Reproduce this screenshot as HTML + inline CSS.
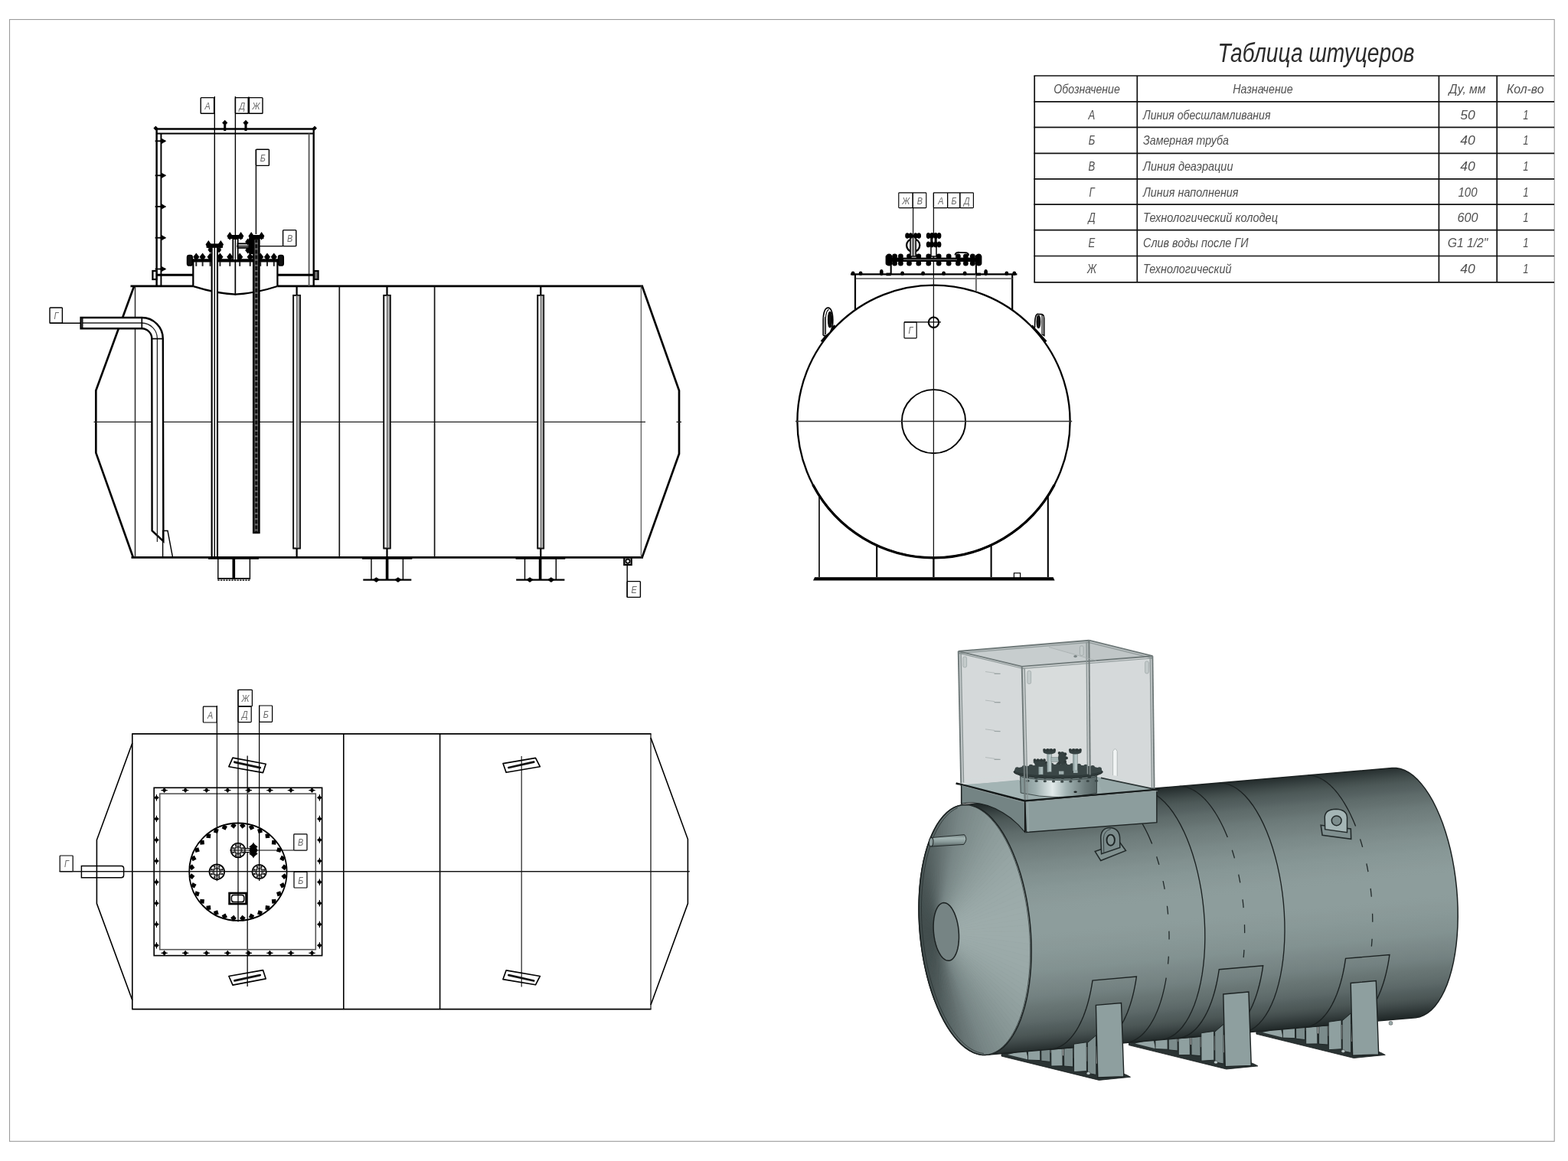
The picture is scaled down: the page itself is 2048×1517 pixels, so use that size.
<!DOCTYPE html>
<html lang="ru">
<head>
<meta charset="utf-8">
<title>Таблица штуцеров</title>
<style>
html,body{margin:0;padding:0;background:#fff;}
body{width:2048px;height:1517px;overflow:hidden;}
svg{display:block;}
svg text{font-family:"Liberation Sans",sans-serif;font-style:italic;filter:grayscale(1);}
</style>
</head>
<body>
<svg width="2048" height="1517" viewBox="0 0 2048 1517">
<rect x="0" y="0" width="2048" height="1517" fill="#ffffff"/>
<g id="table">
<rect x="12.5" y="25.5" width="2017.7" height="1465.8" stroke="#9b9b9b" stroke-width="1.1" fill="none"/>
<text x="1590.5" y="81.3" font-size="35.5" textLength="257" lengthAdjust="spacingAndGlyphs" text-anchor="start" fill="#2b2b2b">Таблица штуцеров</text>
<path d="M1350.4 99L2030 99" stroke="#111" stroke-width="1.7" fill="none"/>
<path d="M1350.4 132.8L2030 132.8" stroke="#111" stroke-width="1.7" fill="none"/>
<path d="M1350.4 166.4L2030 166.4" stroke="#111" stroke-width="1.7" fill="none"/>
<path d="M1350.4 200.3L2030 200.3" stroke="#111" stroke-width="1.7" fill="none"/>
<path d="M1350.4 233.8L2030 233.8" stroke="#111" stroke-width="1.7" fill="none"/>
<path d="M1350.4 267.2L2030 267.2" stroke="#111" stroke-width="1.7" fill="none"/>
<path d="M1350.4 300.6L2030 300.6" stroke="#111" stroke-width="1.7" fill="none"/>
<path d="M1350.4 334.5L2030 334.5" stroke="#111" stroke-width="1.7" fill="none"/>
<path d="M1350.4 368.8L2030 368.8" stroke="#111" stroke-width="1.7" fill="none"/>
<path d="M1351.2 99L1351.2 368.8" stroke="#111" stroke-width="1.7" fill="none"/>
<path d="M1485.3 99L1485.3 368.8" stroke="#111" stroke-width="1.7" fill="none"/>
<path d="M1879.4 99L1879.4 368.8" stroke="#111" stroke-width="1.7" fill="none"/>
<path d="M1955.2 99L1955.2 368.8" stroke="#111" stroke-width="1.7" fill="none"/>
<text x="1376.3" y="121.8" font-size="16.4" textLength="86.5" lengthAdjust="spacingAndGlyphs" text-anchor="start" fill="#505050">Обозначение</text>
<text x="1610.3" y="121.8" font-size="16.4" textLength="78.3" lengthAdjust="spacingAndGlyphs" text-anchor="start" fill="#505050">Назначение</text>
<text x="1892.6" y="121.8" font-size="16.4" textLength="47.8" lengthAdjust="spacingAndGlyphs" text-anchor="start" fill="#505050">Ду, мм</text>
<text x="1968" y="121.8" font-size="16.4" textLength="48.5" lengthAdjust="spacingAndGlyphs" text-anchor="start" fill="#505050">Кол-во</text>
<text transform="translate(1426 155.6) scale(0.8 1)" font-size="16.4" text-anchor="middle" fill="#505050" font-weight="normal">А</text>
<text x="1493" y="155.6" font-size="16.4" textLength="166.5" lengthAdjust="spacingAndGlyphs" text-anchor="start" fill="#505050">Линия обесшламливания</text>
<text x="1907.25" y="155.6" font-size="16.4" textLength="19.5" lengthAdjust="spacingAndGlyphs" text-anchor="start" fill="#505050">50</text>
<text transform="translate(1993 155.6) scale(0.8 1)" font-size="16.4" text-anchor="middle" fill="#505050" font-weight="normal">1</text>
<text transform="translate(1426 189.2) scale(0.8 1)" font-size="16.4" text-anchor="middle" fill="#505050" font-weight="normal">Б</text>
<text x="1493" y="189.2" font-size="16.4" textLength="112" lengthAdjust="spacingAndGlyphs" text-anchor="start" fill="#505050">Замерная труба</text>
<text x="1907.25" y="189.2" font-size="16.4" textLength="19.5" lengthAdjust="spacingAndGlyphs" text-anchor="start" fill="#505050">40</text>
<text transform="translate(1993 189.2) scale(0.8 1)" font-size="16.4" text-anchor="middle" fill="#505050" font-weight="normal">1</text>
<text transform="translate(1426 223.1) scale(0.8 1)" font-size="16.4" text-anchor="middle" fill="#505050" font-weight="normal">В</text>
<text x="1493" y="223.1" font-size="16.4" textLength="117.5" lengthAdjust="spacingAndGlyphs" text-anchor="start" fill="#505050">Линия деаэрации</text>
<text x="1907.25" y="223.1" font-size="16.4" textLength="19.5" lengthAdjust="spacingAndGlyphs" text-anchor="start" fill="#505050">40</text>
<text transform="translate(1993 223.1) scale(0.8 1)" font-size="16.4" text-anchor="middle" fill="#505050" font-weight="normal">1</text>
<text transform="translate(1426 256.6) scale(0.8 1)" font-size="16.4" text-anchor="middle" fill="#505050" font-weight="normal">Г</text>
<text x="1493" y="256.6" font-size="16.4" textLength="124.5" lengthAdjust="spacingAndGlyphs" text-anchor="start" fill="#505050">Линия наполнения</text>
<text x="1904.5" y="256.6" font-size="16.4" textLength="25" lengthAdjust="spacingAndGlyphs" text-anchor="start" fill="#505050">100</text>
<text transform="translate(1993 256.6) scale(0.8 1)" font-size="16.4" text-anchor="middle" fill="#505050" font-weight="normal">1</text>
<text transform="translate(1426 290) scale(0.8 1)" font-size="16.4" text-anchor="middle" fill="#505050" font-weight="normal">Д</text>
<text x="1493" y="290" font-size="16.4" textLength="176" lengthAdjust="spacingAndGlyphs" text-anchor="start" fill="#505050">Технологический колодец</text>
<text x="1903.5" y="290" font-size="16.4" textLength="27" lengthAdjust="spacingAndGlyphs" text-anchor="start" fill="#505050">600</text>
<text transform="translate(1993 290) scale(0.8 1)" font-size="16.4" text-anchor="middle" fill="#505050" font-weight="normal">1</text>
<text transform="translate(1426 323.4) scale(0.8 1)" font-size="16.4" text-anchor="middle" fill="#505050" font-weight="normal">Е</text>
<text x="1493" y="323.4" font-size="16.4" textLength="137.5" lengthAdjust="spacingAndGlyphs" text-anchor="start" fill="#505050">Слив воды после ГИ</text>
<text x="1890.75" y="323.4" font-size="16.4" textLength="52.5" lengthAdjust="spacingAndGlyphs" text-anchor="start" fill="#505050">G1 1/2&quot;</text>
<text transform="translate(1993 323.4) scale(0.8 1)" font-size="16.4" text-anchor="middle" fill="#505050" font-weight="normal">1</text>
<text transform="translate(1426 357.3) scale(0.8 1)" font-size="16.4" text-anchor="middle" fill="#505050" font-weight="normal">Ж</text>
<text x="1493" y="357.3" font-size="16.4" textLength="115.5" lengthAdjust="spacingAndGlyphs" text-anchor="start" fill="#505050">Технологический</text>
<text x="1907.25" y="357.3" font-size="16.4" textLength="19.5" lengthAdjust="spacingAndGlyphs" text-anchor="start" fill="#505050">40</text>
<text transform="translate(1993 357.3) scale(0.8 1)" font-size="16.4" text-anchor="middle" fill="#505050" font-weight="normal">1</text>
</g>
<g id="side">
<path d="M170.5 373.8L252.3 373.8" stroke="#000" stroke-width="2.66" fill="none"/><path d="M362.4 373.8L840 373.8" stroke="#000" stroke-width="2.66" fill="none"/>
<path d="M171.5 728.3L840 728.3" stroke="#000" stroke-width="2.66" fill="none"/>
<path d="M176.5 373.8L176.5 728.3" stroke="#222" stroke-width="1.4" fill="none"/>
<path d="M837.4 373.8L837.4 728.3" stroke="#666" stroke-width="1.4" fill="none"/>
<path d="M175.2 373.8L125.3 510.2L125.3 591.6L173.9 728.3" stroke="#000" stroke-width="2.66" fill="none"/>
<path d="M838.7 373.8L887 510.3L887 593L838.7 728.3" stroke="#000" stroke-width="2.66" fill="none"/>
<path d="M122.5 551.4L843 551.4" stroke="#222" stroke-width="1.4" fill="none"/>
<path d="M883.5 551.4L890 551.4" stroke="#222" stroke-width="1.4" fill="none"/>
<path d="M443.3 373.8L443.3 728.3" stroke="#111" stroke-width="1.68" fill="none"/>
<path d="M567.6 373.8L567.6 728.3" stroke="#111" stroke-width="1.68" fill="none"/>
<rect x="383.2" y="385.8" width="8.8" height="330.7" stroke="#111" stroke-width="1.68" fill="#fff"/><rect x="387.6" y="385.8" width="4.4" height="330.7" stroke="none" fill="#b0b0b0"/><rect x="383.2" y="385.8" width="8.8" height="330.7" stroke="#111" stroke-width="1.68" fill="none"/><path d="M387.6 385.8L387.6 716.5" stroke="#555" stroke-width="1.12" fill="none"/><path d="M387.6 373.8L387.6 385.8" stroke="#000" stroke-width="2.24" fill="none"/><path d="M387.6 716.5L387.6 728.3" stroke="#000" stroke-width="2.24" fill="none"/>
<rect x="501.3" y="385.8" width="8.4" height="330.7" stroke="#111" stroke-width="1.68" fill="#fff"/><rect x="505.5" y="385.8" width="4.2" height="330.7" stroke="none" fill="#b0b0b0"/><rect x="501.3" y="385.8" width="8.4" height="330.7" stroke="#111" stroke-width="1.68" fill="none"/><path d="M505.5 385.8L505.5 716.5" stroke="#555" stroke-width="1.12" fill="none"/><path d="M505.5 373.8L505.5 385.8" stroke="#000" stroke-width="2.24" fill="none"/><path d="M505.5 716.5L505.5 728.3" stroke="#000" stroke-width="2.24" fill="none"/>
<rect x="702.3" y="385.8" width="7.9" height="330.7" stroke="#111" stroke-width="1.68" fill="#fff"/><rect x="706.25" y="385.8" width="3.95" height="330.7" stroke="none" fill="#b0b0b0"/><rect x="702.3" y="385.8" width="7.9" height="330.7" stroke="#111" stroke-width="1.68" fill="none"/><path d="M706.25 385.8L706.25 716.5" stroke="#555" stroke-width="1.12" fill="none"/><path d="M706.25 373.8L706.25 385.8" stroke="#000" stroke-width="2.24" fill="none"/><path d="M706.25 716.5L706.25 728.3" stroke="#000" stroke-width="2.24" fill="none"/>
<path d="M284.8 728.3L284.8 757" stroke="#000" stroke-width="1.4" fill="none"/><path d="M326.4 728.3L326.4 757" stroke="#000" stroke-width="1.4" fill="none"/><path d="M305.3 728.3L305.3 757" stroke="#000" stroke-width="3.64" fill="none"/><path d="M284.3 755.8L326.9 755.8" stroke="#000" stroke-width="1.68" fill="none"/><path d="M284.3 758.2L326.9 758.2" stroke="#333" stroke-width="1.68" fill="none" stroke-dasharray="2.4 1.2"/><path d="M272 729.7L338 729.7" stroke="#000" stroke-width="2.24" fill="none"/>
<path d="M473 729.7L538.4 729.7" stroke="#000" stroke-width="2.24" fill="none"/><path d="M485 728.3L485 757" stroke="#000" stroke-width="1.4" fill="none"/><path d="M526.4 728.3L526.4 757" stroke="#000" stroke-width="1.4" fill="none"/><path d="M505.6 728.3L505.6 757.5" stroke="#000" stroke-width="3.64" fill="none"/><path d="M474.3 757.6L537.3 757.6" stroke="#000" stroke-width="2.24" fill="none"/><path d="M486.7 757.6L491.5 754.3L496.3 757.6L491.5 760.9Z" stroke="none" fill="#000"/><path d="M515.1 757.6L519.9 754.3L524.7 757.6L519.9 760.9Z" stroke="none" fill="#000"/>
<path d="M673.5 729.7L738.3 729.7" stroke="#000" stroke-width="2.24" fill="none"/><path d="M685.5 728.3L685.5 757" stroke="#000" stroke-width="1.4" fill="none"/><path d="M726.3 728.3L726.3 757" stroke="#000" stroke-width="1.4" fill="none"/><path d="M705.6 728.3L705.6 757.5" stroke="#000" stroke-width="3.64" fill="none"/><path d="M674.2 757.6L737.4 757.6" stroke="#000" stroke-width="2.24" fill="none"/><path d="M687.2 757.6L692 754.3L696.8 757.6L692 760.9Z" stroke="none" fill="#000"/><path d="M715 757.6L719.8 754.3L724.6 757.6L719.8 760.9Z" stroke="none" fill="#000"/>
<rect x="815.3" y="728.6" width="9.4" height="9.4" stroke="#000" stroke-width="2.24" fill="#ddd"/>
<circle cx="820" cy="733.3" r="2.6" stroke="#000" stroke-width="1.68" fill="#fff"/>
<path d="M819.2 738L819.2 780.4" stroke="#000" stroke-width="1.4" fill="none"/>
<rect x="819.2" y="759.6" width="17.2" height="20.8" stroke="#000" stroke-width="1.4" fill="none" rx="0.8"/><text transform="translate(828.1 774.9) scale(0.8 1)" font-size="13.6" text-anchor="middle" fill="#6a6a6a" font-weight="normal">Е</text>
<path d="M105.6 415H185.3A27.5 27.5 0 0 1 212.8 442.6L213.4 707.2L198.6 693.4L198.3 442.6A13.2 13.2 0 0 0 185.3 429.3H105.6Z" stroke="#000" stroke-width="2.38" fill="#fff"/>
<path d="M108 422H185.3A20.4 20.4 0 0 1 205.4 442.6V708" stroke="#222" stroke-width="1.26" fill="none"/>
<path d="M185.3 415L185.3 429.3" stroke="#000" stroke-width="1.68" fill="none"/>
<path d="M198.3 442.6L212.8 442.6" stroke="#000" stroke-width="1.68" fill="none"/>
<path d="M107.8 415L107.8 429.3" stroke="#000" stroke-width="1.4" fill="none"/>
<path d="M212.6 728L212.6 693.5L219 693.5L225.5 728" stroke="#000" stroke-width="1.4" fill="none"/>
<path d="M65 422.3L105.6 422.3" stroke="#000" stroke-width="1.4" fill="none"/>
<rect x="65" y="402" width="16.4" height="20.3" stroke="#000" stroke-width="1.4" fill="none" rx="0.8"/><text transform="translate(73.5 417.05) scale(0.8 1)" font-size="13.6" text-anchor="middle" fill="#6a6a6a" font-weight="normal">Г</text>
<path d="M202.5 168.6L411.8 168.6" stroke="#000" stroke-width="2.52" fill="none"/>
<path d="M204.3 174.4L410 174.4" stroke="#000" stroke-width="1.96" fill="none"/>
<path d="M204.6 167.6L204.6 373.8" stroke="#000" stroke-width="2.45" fill="none"/>
<path d="M210.4 174.4L210.4 373.8" stroke="#000" stroke-width="1.96" fill="none"/>
<path d="M403.6 174.4L403.6 373.8" stroke="#555" stroke-width="1.82" fill="none"/>
<path d="M409.7 167.6L409.7 373.8" stroke="#000" stroke-width="2.38" fill="none"/>
<path d="M200.4 167.6L203.4 164.6L206.4 167.6L203.4 170.6Z" stroke="none" fill="#000"/><path d="M408 167.6L411 164.6L414 167.6L411 170.6Z" stroke="none" fill="#000"/>
<path d="M293.7 160L293.7 171" stroke="#000" stroke-width="3.08" fill="none"/><path d="M290.1 160.4L293.7 156.8L297.3 160.4L293.7 164Z" stroke="none" fill="#000"/>
<path d="M321 160L321 171" stroke="#000" stroke-width="3.08" fill="none"/><path d="M317.4 160.4L321 156.8L324.6 160.4L321 164Z" stroke="none" fill="#000"/>
<path d="M202.6 184.3L216.1 184.3" stroke="#000" stroke-width="1.82" fill="none"/><path d="M211 180.7L217.2 184.3L211 187.9L209.2 184.3Z" stroke="none" fill="#000"/>
<path d="M202.6 229.3L216.1 229.3" stroke="#000" stroke-width="1.82" fill="none"/><path d="M211 225.7L217.2 229.3L211 232.9L209.2 229.3Z" stroke="none" fill="#000"/>
<path d="M202.6 269.9L216.1 269.9" stroke="#000" stroke-width="1.82" fill="none"/><path d="M211 266.3L217.2 269.9L211 273.5L209.2 269.9Z" stroke="none" fill="#000"/>
<path d="M202.6 310.7L216.1 310.7" stroke="#000" stroke-width="1.82" fill="none"/><path d="M211 307.1L217.2 310.7L211 314.3L209.2 310.7Z" stroke="none" fill="#000"/>
<path d="M202.6 351.5L216.1 351.5" stroke="#000" stroke-width="1.82" fill="none"/><path d="M211 347.9L217.2 351.5L211 355.1L209.2 351.5Z" stroke="none" fill="#000"/>
<path d="M204 359.2L252.2 359.2" stroke="#000" stroke-width="2.94" fill="none"/>
<path d="M362.5 359.2L410 359.2" stroke="#000" stroke-width="2.94" fill="none"/>
<rect x="199.4" y="354" width="5" height="11" stroke="#000" stroke-width="2.24" fill="#fff"/>
<rect x="410.2" y="354" width="5.4" height="11" stroke="#000" stroke-width="2.1" fill="#777"/>
<path d="M252.3 341L252.3 373.8" stroke="#000" stroke-width="2.24" fill="none"/>
<path d="M362.4 341L362.4 373.8" stroke="#000" stroke-width="2.24" fill="none"/>
<path d="M252.3 374Q281 383.4 307.4 384.6Q334 383.4 362.4 374" stroke="#000" stroke-width="2.24" fill="none"/>
<path d="M246 340.4L369 340.4" stroke="#000" stroke-width="4.2" fill="none"/>
<rect x="244.6" y="333.5" width="6.6" height="13.5" stroke="#000" stroke-width="1.68" fill="#111" rx="2.5"/>
<rect x="363.6" y="333.5" width="6.6" height="13.5" stroke="#000" stroke-width="1.68" fill="#111" rx="2.5"/>
<path d="M252.2 335.8L256.3 330.5L260.4 335.8L256.3 341.1Z" stroke="none" fill="#000"/><path d="M260.5 335.8L264.6 330.5L268.7 335.8L264.6 341.1Z" stroke="none" fill="#000"/><path d="M270.5 335.8L274.6 330.5L278.7 335.8L274.6 341.1Z" stroke="none" fill="#000"/><path d="M283.3 335.8L287.4 330.5L291.5 335.8L287.4 341.1Z" stroke="none" fill="#000"/><path d="M296.2 335.8L300.3 330.5L304.4 335.8L300.3 341.1Z" stroke="none" fill="#000"/><path d="M309.1 335.8L313.2 330.5L317.3 335.8L313.2 341.1Z" stroke="none" fill="#000"/><path d="M322.6 335.8L326.7 330.5L330.8 335.8L326.7 341.1Z" stroke="none" fill="#000"/><path d="M336.1 335.8L340.2 330.5L344.3 335.8L340.2 341.1Z" stroke="none" fill="#000"/><path d="M344.9 335.8L349 330.5L353.1 335.8L349 341.1Z" stroke="none" fill="#000"/><path d="M353.7 335.8L357.8 330.5L361.9 335.8L357.8 341.1Z" stroke="none" fill="#000"/>
<path d="M256.3 342L256.3 347.8" stroke="#222" stroke-width="1.96" fill="none"/>
<path d="M264.6 342L264.6 347.8" stroke="#222" stroke-width="1.96" fill="none"/>
<path d="M274.6 342L274.6 347.8" stroke="#222" stroke-width="1.96" fill="none"/>
<path d="M287.4 342L287.4 347.8" stroke="#222" stroke-width="1.96" fill="none"/>
<path d="M300.3 342L300.3 347.8" stroke="#222" stroke-width="1.96" fill="none"/>
<path d="M313.2 342L313.2 347.8" stroke="#222" stroke-width="1.96" fill="none"/>
<path d="M326.7 342L326.7 347.8" stroke="#222" stroke-width="1.96" fill="none"/>
<path d="M340.2 342L340.2 347.8" stroke="#222" stroke-width="1.96" fill="none"/>
<path d="M349 342L349 347.8" stroke="#222" stroke-width="1.96" fill="none"/>
<path d="M357.8 342L357.8 347.8" stroke="#222" stroke-width="1.96" fill="none"/>
<rect x="276.6" y="322" width="7.4" height="406" stroke="#000" stroke-width="2.1" fill="#fff"/>
<path d="M280.3 126L280.3 728" stroke="#000" stroke-width="1.4" fill="none"/>
<path d="M268.5 319.5L272.3 313.9L276.1 319.5L272.3 325.1Z" stroke="none" fill="#000"/><path d="M284.5 319.5L288.3 313.9L292.1 319.5L288.3 325.1Z" stroke="none" fill="#000"/>
<rect x="269.6" y="318.4" width="21.4" height="5.4" stroke="none" fill="#000"/>
<path d="M271.5 326.5L274.5 322.5L277.5 326.5L274.5 330.5Z" stroke="none" fill="#000"/><path d="M283.2 326.5L286.2 322.5L289.2 326.5L286.2 330.5Z" stroke="none" fill="#000"/>
<rect x="262.2" y="127.6" width="17.4" height="20.7" stroke="#000" stroke-width="1.4" fill="none" rx="0.8"/><text transform="translate(271.2 142.85) scale(0.8 1)" font-size="13.6" text-anchor="middle" fill="#6a6a6a" font-weight="normal">А</text>
<path d="M307.4 126L307.4 385.6" stroke="#000" stroke-width="1.4" fill="none"/>
<rect x="304.3" y="312" width="6.4" height="28" stroke="#000" stroke-width="1.82" fill="#fff"/>
<path d="M307.4 312L307.4 385.6" stroke="#000" stroke-width="1.4" fill="none"/>
<path d="M296.4 308.4L300.2 303L304 308.4L300.2 313.8Z" stroke="none" fill="#000"/><path d="M310.8 308.4L314.6 303L318.4 308.4L314.6 313.8Z" stroke="none" fill="#000"/>
<rect x="297.6" y="307" width="19.6" height="5" stroke="none" fill="#000"/>
<rect x="307.4" y="127.6" width="17" height="20.7" stroke="#000" stroke-width="1.4" fill="none" rx="0.8"/><text transform="translate(316.2 142.85) scale(0.8 1)" font-size="13.6" text-anchor="middle" fill="#6a6a6a" font-weight="normal">Д</text>
<rect x="325.2" y="127.6" width="17.8" height="20.7" stroke="#000" stroke-width="1.4" fill="none" rx="0.8"/><text transform="translate(334.4 142.85) scale(0.8 1)" font-size="13.6" text-anchor="middle" fill="#6a6a6a" font-weight="normal">Ж</text><path d="M324.9 126.6L324.9 148.3" stroke="#000" stroke-width="2.38" fill="none"/>
<rect x="310.6" y="318.3" width="15" height="5.6" stroke="#000" stroke-width="1.82" fill="#ccc"/>
<rect x="324.6" y="311" width="8.6" height="21" stroke="none" fill="#000" rx="2"/>
<path d="M320.2 316L323.6 311.6L327 316L323.6 320.4Z" stroke="none" fill="#000"/><path d="M320.2 327L323.6 322.6L327 327L323.6 331.4Z" stroke="none" fill="#000"/>
<path d="M309 321.6L369.6 321.6" stroke="#000" stroke-width="1.4" fill="none"/>
<rect x="369.6" y="300.6" width="17.2" height="21" stroke="#000" stroke-width="1.4" fill="none" rx="0.8"/><text transform="translate(378.5 316) scale(0.8 1)" font-size="13.6" text-anchor="middle" fill="#6a6a6a" font-weight="normal">В</text>
<rect x="331.2" y="312" width="7.2" height="384" stroke="#000" stroke-width="2.52" fill="#666"/>
<path d="M334.8 312L334.8 695" stroke="#111" stroke-width="3.08" fill="none" stroke-dasharray="5 2.2"/>
<path d="M324.4 308.4L328.2 303L332 308.4L328.2 313.8Z" stroke="none" fill="#000"/><path d="M337.8 308.4L341.6 303L345.4 308.4L341.6 313.8Z" stroke="none" fill="#000"/>
<rect x="325.4" y="307" width="19" height="5" stroke="none" fill="#000"/>
<path d="M334.4 195L334.4 306" stroke="#000" stroke-width="1.4" fill="none"/>
<rect x="334.4" y="195.2" width="17" height="21.2" stroke="#000" stroke-width="1.4" fill="none" rx="0.8"/><text transform="translate(343.2 210.7) scale(0.8 1)" font-size="13.6" text-anchor="middle" fill="#6a6a6a" font-weight="normal">Б</text>
</g>
<g id="end">
<path d="M1070 647.5L1070 756" stroke="#000" stroke-width="1.61" fill="none"/>
<path d="M1145.2 712.56L1145.2 756" stroke="#000" stroke-width="2.07" fill="none"/>
<path d="M1294.6 712.19L1294.6 756" stroke="#000" stroke-width="2.07" fill="none"/>
<path d="M1368.8 647.8L1368.8 756" stroke="#000" stroke-width="2.07" fill="none"/>
<path d="M1219.4 728.8L1219.4 756" stroke="#000" stroke-width="2.3" fill="none"/>
<path d="M1064 754.6L1375.6 754.6L1377.6 758.6L1062 758.6Z" stroke="none" fill="#000"/>
<path d="M1064 754.4L1375.6 754.4" stroke="#333" stroke-width="1.03" fill="none"/>
<rect x="1324.4" y="748.8" width="8.2" height="6" stroke="#000" stroke-width="1.15" fill="#fff"/>
<circle cx="1219.5" cy="550.7" r="178.1" stroke="#000" stroke-width="2.3" fill="none"/>
<path d="M1376.75 634.31A178.1 178.1 0 0 1 1062.25 634.31" stroke="#000" stroke-width="3.22" fill="none" stroke-linecap="round"/>
<circle cx="1219.5" cy="550.7" r="41.6" stroke="#000" stroke-width="1.95" fill="none"/>
<path d="M1039 550.5L1400.2 550.5" stroke="#333" stroke-width="1.26" fill="none"/>
<path d="M1219.4 251.8L1219.4 728.8" stroke="#111" stroke-width="1.26" fill="none"/>
<path d="M1117 358.4L1117 405" stroke="#000" stroke-width="2.18" fill="none"/>
<path d="M1322.2 358.4L1322.2 405" stroke="#000" stroke-width="2.18" fill="none"/>
<path d="M1111 358.4L1328.4 358.4" stroke="#000" stroke-width="2.3" fill="none"/>
<path d="M1117.6 364L1322.4 364" stroke="#555" stroke-width="1.72" fill="none"/>
<ellipse cx="1114.1" cy="357.2" rx="2.4" ry="2.6" stroke="none" fill="#000"/>
<ellipse cx="1124.1" cy="357.2" rx="2.4" ry="2.6" stroke="none" fill="#000"/>
<ellipse cx="1178.6" cy="357.2" rx="2.4" ry="2.6" stroke="none" fill="#000"/>
<ellipse cx="1205.6" cy="357.2" rx="2.4" ry="2.6" stroke="none" fill="#000"/>
<ellipse cx="1232.6" cy="357.2" rx="2.4" ry="2.6" stroke="none" fill="#000"/>
<ellipse cx="1260.2" cy="357.2" rx="2.4" ry="2.6" stroke="none" fill="#000"/>
<ellipse cx="1314.8" cy="357.2" rx="2.4" ry="2.6" stroke="none" fill="#000"/>
<ellipse cx="1324.8" cy="357.2" rx="2.4" ry="2.6" stroke="none" fill="#000"/>
<ellipse cx="1151.3" cy="356" rx="2.4" ry="4" stroke="none" fill="#000"/>
<ellipse cx="1287.6" cy="356" rx="2.4" ry="4" stroke="none" fill="#000"/>
<path d="M1163.7 345L1163.7 358.4" stroke="#000" stroke-width="2.07" fill="none"/>
<path d="M1274.9 345L1274.9 358.4" stroke="#000" stroke-width="2.07" fill="none"/>
<path d="M1274.9 358.4L1274.9 380.4" stroke="#666" stroke-width="1.84" fill="none"/>
<path d="M1157.5 358.4L1163.7 358.4" stroke="#000" stroke-width="3.68" fill="none"/><path d="M1274.9 358.4L1281 358.4" stroke="#000" stroke-width="3.68" fill="none"/>
<rect x="1157" y="336.6" width="125" height="5.4" stroke="none" fill="#000"/>
<ellipse cx="1161.2" cy="335" rx="3.4" ry="3.4" stroke="none" fill="#000"/><ellipse cx="1161.2" cy="344" rx="3.4" ry="3.6" stroke="none" fill="#000"/>
<ellipse cx="1168.6" cy="335" rx="3.4" ry="3.4" stroke="none" fill="#000"/><ellipse cx="1168.6" cy="344" rx="3.4" ry="3.6" stroke="none" fill="#000"/>
<ellipse cx="1176.4" cy="335" rx="3.4" ry="3.4" stroke="none" fill="#000"/><ellipse cx="1176.4" cy="344" rx="3.4" ry="3.6" stroke="none" fill="#000"/>
<ellipse cx="1187.5" cy="335" rx="3.4" ry="3.4" stroke="none" fill="#000"/><ellipse cx="1187.5" cy="344" rx="3.4" ry="3.6" stroke="none" fill="#000"/>
<ellipse cx="1199.8" cy="335" rx="3.4" ry="3.4" stroke="none" fill="#000"/><ellipse cx="1199.8" cy="344" rx="3.4" ry="3.6" stroke="none" fill="#000"/>
<ellipse cx="1212.8" cy="335" rx="3.4" ry="3.4" stroke="none" fill="#000"/><ellipse cx="1212.8" cy="344" rx="3.4" ry="3.6" stroke="none" fill="#000"/>
<ellipse cx="1226.2" cy="335" rx="3.4" ry="3.4" stroke="none" fill="#000"/><ellipse cx="1226.2" cy="344" rx="3.4" ry="3.6" stroke="none" fill="#000"/>
<ellipse cx="1239.2" cy="335" rx="3.4" ry="3.4" stroke="none" fill="#000"/><ellipse cx="1239.2" cy="344" rx="3.4" ry="3.6" stroke="none" fill="#000"/>
<ellipse cx="1251.4" cy="335" rx="3.4" ry="3.4" stroke="none" fill="#000"/><ellipse cx="1251.4" cy="344" rx="3.4" ry="3.6" stroke="none" fill="#000"/>
<ellipse cx="1261.4" cy="335" rx="3.4" ry="3.4" stroke="none" fill="#000"/><ellipse cx="1261.4" cy="344" rx="3.4" ry="3.6" stroke="none" fill="#000"/>
<ellipse cx="1270.3" cy="335" rx="3.4" ry="3.4" stroke="none" fill="#000"/><ellipse cx="1270.3" cy="344" rx="3.4" ry="3.6" stroke="none" fill="#000"/>
<ellipse cx="1278.4" cy="335" rx="3.4" ry="3.4" stroke="none" fill="#000"/><ellipse cx="1278.4" cy="344" rx="3.4" ry="3.6" stroke="none" fill="#000"/>
<rect x="1156.6" y="333" width="9" height="13.6" stroke="none" fill="#000" rx="2.5"/>
<rect x="1273.4" y="333" width="9" height="13.6" stroke="none" fill="#000" rx="2.5"/>
<path d="M1180 339.2L1250 339.2" stroke="#999" stroke-width="0.92" fill="none"/>
<path d="M1247.4 333.4Q1248 329.6 1253 329.8L1262 330.2Q1265.4 331 1265 334" stroke="#000" stroke-width="1.84" fill="none"/>
<path d="M1192.6 271.6L1192.6 306" stroke="#000" stroke-width="1.15" fill="none"/>
<circle cx="1192.7" cy="320.6" r="8.6" stroke="#000" stroke-width="2.3" fill="#fff"/>
<rect x="1189" y="308" width="7.2" height="27" stroke="#000" stroke-width="1.49" fill="#bbb"/>
<path d="M1192.6 308L1192.6 335" stroke="#000" stroke-width="1.03" fill="none"/>
<ellipse cx="1185" cy="308" rx="2.8" ry="3.8" stroke="none" fill="#000"/>
<ellipse cx="1189.5" cy="308" rx="2.8" ry="3.8" stroke="none" fill="#000"/>
<ellipse cx="1195.8" cy="308" rx="2.8" ry="3.8" stroke="none" fill="#000"/>
<ellipse cx="1200.2" cy="308" rx="2.8" ry="3.8" stroke="none" fill="#000"/>
<rect x="1183" y="306.4" width="19.4" height="3.6" stroke="none" fill="#000"/>
<rect x="1216" y="308" width="7" height="27" stroke="#000" stroke-width="1.49" fill="#fff"/>
<ellipse cx="1212.6" cy="308" rx="2.8" ry="3.9" stroke="none" fill="#000"/>
<ellipse cx="1217.2" cy="308" rx="2.8" ry="3.9" stroke="none" fill="#000"/>
<ellipse cx="1222" cy="308" rx="2.8" ry="3.9" stroke="none" fill="#000"/>
<ellipse cx="1226.6" cy="308" rx="2.8" ry="3.9" stroke="none" fill="#000"/>
<rect x="1210.6" y="306.4" width="18.4" height="3.4" stroke="none" fill="#000"/>
<ellipse cx="1212.6" cy="319.4" rx="2.8" ry="3.9" stroke="none" fill="#000"/>
<ellipse cx="1217.2" cy="319.4" rx="2.8" ry="3.9" stroke="none" fill="#000"/>
<ellipse cx="1222" cy="319.4" rx="2.8" ry="3.9" stroke="none" fill="#000"/>
<ellipse cx="1226.6" cy="319.4" rx="2.8" ry="3.9" stroke="none" fill="#000"/>
<rect x="1210.6" y="317.8" width="18.4" height="3.4" stroke="none" fill="#000"/>
<rect x="1216.6" y="311.5" width="1.8" height="5" stroke="none" fill="#000"/><rect x="1220.6" y="311.5" width="1.8" height="5" stroke="none" fill="#000"/>
<rect x="1173.8" y="251.8" width="18.4" height="19.8" stroke="#000" stroke-width="1.15" fill="none" rx="0.8"/><text transform="translate(1183.3 266.6) scale(0.8 1)" font-size="13.6" text-anchor="middle" fill="#6a6a6a" font-weight="normal">Ж</text><rect x="1192.2" y="251.8" width="17.6" height="19.8" stroke="#000" stroke-width="1.15" fill="none" rx="0.8"/><text transform="translate(1201.3 266.6) scale(0.8 1)" font-size="13.6" text-anchor="middle" fill="#6a6a6a" font-weight="normal">В</text>
<rect x="1219.4" y="251.8" width="18.2" height="19.8" stroke="#000" stroke-width="1.15" fill="none" rx="0.8"/><text transform="translate(1228.8 266.6) scale(0.8 1)" font-size="13.6" text-anchor="middle" fill="#6a6a6a" font-weight="normal">А</text><rect x="1237.6" y="251.8" width="16.2" height="19.8" stroke="#000" stroke-width="1.15" fill="none" rx="0.8"/><text transform="translate(1246 266.6) scale(0.8 1)" font-size="13.6" text-anchor="middle" fill="#6a6a6a" font-weight="normal">Б</text><rect x="1253.8" y="251.8" width="17.6" height="19.8" stroke="#000" stroke-width="1.15" fill="none" rx="0.8"/><text transform="translate(1262.9 266.6) scale(0.8 1)" font-size="13.6" text-anchor="middle" fill="#6a6a6a" font-weight="normal">Д</text>
<circle cx="1219.5" cy="421.2" r="6.7" stroke="#000" stroke-width="2.18" fill="#fff"/>
<path d="M1219.4 412L1219.4 431" stroke="#000" stroke-width="1.15" fill="none"/>
<path d="M1181 420.9L1229 420.9" stroke="#000" stroke-width="1.15" fill="none"/>
<rect x="1181" y="420.9" width="16.2" height="21" stroke="#000" stroke-width="1.15" fill="none" rx="0.8"/><text transform="translate(1189.4 436.3) scale(0.8 1)" font-size="13.6" text-anchor="middle" fill="#6a6a6a" font-weight="normal">Г</text>
<path d="M1347.5 425.4L1366.3 446.4" stroke="#000" stroke-width="2.99" fill="none"/><path d="M1351.6 428Q1351.2 409.6 1356 410.4L1360 410.6Q1363.6 411 1363.8 416L1363.8 438.4L1360.8 436.6" stroke="#000" stroke-width="1.61" fill="#fff"/><path d="M1361 412L1361 436.8" stroke="#000" stroke-width="1.15" fill="none"/><rect x="1361.4" y="413" width="2" height="24" stroke="none" fill="#888"/><ellipse cx="1356.4" cy="420.4" rx="2.3" ry="8.2" stroke="#000" stroke-width="1.15" fill="#111"/>
<path d="M1072.9 446.4L1090.6 425.2" stroke="#000" stroke-width="2.99" fill="none"/>
<path d="M1075.2 437.6V418Q1075.6 402.6 1081.6 402.2Q1087.4 402.6 1087.8 418Q1088 428 1084 434.5L1079.4 438.4Q1076 439.4 1075.2 437.6Z" stroke="#000" stroke-width="1.72" fill="#fff"/>
<rect x="1075.6" y="414" width="2.2" height="24" stroke="none" fill="#888"/>
<path d="M1078.4 437V416Q1079 405.4 1082.6 404.4" stroke="#000" stroke-width="1.15" fill="none"/>
<ellipse cx="1084" cy="417.6" rx="2.5" ry="10.4" stroke="#000" stroke-width="1.15" fill="#111"/>
</g>
<g id="top">
<path d="M172.2 958.9L850.6 958.9" stroke="#000" stroke-width="1.71" fill="none"/>
<path d="M172.2 1318.6L850.6 1318.6" stroke="#000" stroke-width="1.71" fill="none"/>
<path d="M172.8 958.9L172.8 1318.6" stroke="#000" stroke-width="1.59" fill="none"/>
<path d="M850 958.9L850 1318.6" stroke="#222" stroke-width="1.34" fill="none"/>
<path d="M172.8 971L126.4 1097.6L126.4 1180.6L172.8 1306.8" stroke="#000" stroke-width="1.59" fill="none"/>
<path d="M850 964L898.4 1096.6L898.4 1180.6L850 1313" stroke="#000" stroke-width="1.59" fill="none"/>
<path d="M448.8 958.9L448.8 1318.6" stroke="#000" stroke-width="1.59" fill="none"/>
<path d="M574.6 958.9L574.6 1318.6" stroke="#000" stroke-width="1.59" fill="none"/>
<path d="M77.6 1138.6L900.6 1138.6" stroke="#111" stroke-width="1.34" fill="none"/>
<path d="M106.4 1131.4H158.5Q161.6 1131.4 161.6 1134.5V1143.6Q161.6 1146.8 158.5 1146.8H106.4Z" stroke="#000" stroke-width="1.46" fill="#fff"/>
<path d="M106 1138.6L162 1138.6" stroke="#111" stroke-width="1.34" fill="none"/>
<path d="M126.4 1131.4L126.4 1146.8" stroke="#000" stroke-width="1.59" fill="none"/>
<rect x="78.2" y="1118" width="17" height="20.6" stroke="#000" stroke-width="1.22" fill="none" rx="0.8"/><text transform="translate(87 1133.2) scale(0.8 1)" font-size="13.6" text-anchor="middle" fill="#6a6a6a" font-weight="normal">Г</text>
<path d="M323.2 987.6L323.2 1289" stroke="#333" stroke-width="1.59" fill="none"/>
<path d="M681.2 988L681.2 1289.6" stroke="#222" stroke-width="1.22" fill="none"/>
<path d="M304 990.1L347.2 998.3L343.5 1009.6L298.9 1001.7Z" stroke="#000" stroke-width="1.65" fill="none" stroke-linejoin="round"/><path d="M306.4 995.8L339.7 1003.1" stroke="#111" stroke-width="2.81" fill="none" stroke-linecap="round"/><path d="M304 1287.1L347.2 1278.9L343.5 1267.6L298.9 1275.5Z" stroke="#000" stroke-width="1.65" fill="none" stroke-linejoin="round"/><path d="M306.4 1281.4L339.7 1274.1" stroke="#111" stroke-width="2.81" fill="none" stroke-linecap="round"/><path d="M657 997.6L699.5 990.4L705.3 1001.7L661.1 1009.3Z" stroke="#000" stroke-width="1.65" fill="none" stroke-linejoin="round"/><path d="M664.4 1003L697.2 995.7" stroke="#111" stroke-width="2.81" fill="none" stroke-linecap="round"/><path d="M657 1279.6L699.5 1286.8L705.3 1275.5L661.1 1267.9Z" stroke="#000" stroke-width="1.65" fill="none" stroke-linejoin="round"/><path d="M664.4 1274.2L697.2 1281.5" stroke="#111" stroke-width="2.81" fill="none" stroke-linecap="round"/>
<rect x="201.2" y="1029.3" width="219.4" height="219.3" stroke="#000" stroke-width="1.65" fill="none"/>
<rect x="208.7" y="1037.1" width="203.6" height="203.6" stroke="#555" stroke-width="1.59" fill="none"/>
<path d="M211.8 1032.6L214.6 1029.1L217.4 1032.6L214.6 1036.1Z" stroke="none" fill="#000"/><path d="M210.4 1032.6L218.8 1032.6" stroke="#000" stroke-width="1.22" fill="none"/><path d="M211.8 1245.3L214.6 1241.8L217.4 1245.3L214.6 1248.8Z" stroke="none" fill="#000"/><path d="M210.4 1245.3L218.8 1245.3" stroke="#000" stroke-width="1.22" fill="none"/>
<path d="M239.36 1032.6L242.16 1029.1L244.96 1032.6L242.16 1036.1Z" stroke="none" fill="#000"/><path d="M237.96 1032.6L246.36 1032.6" stroke="#000" stroke-width="1.22" fill="none"/><path d="M239.36 1245.3L242.16 1241.8L244.96 1245.3L242.16 1248.8Z" stroke="none" fill="#000"/><path d="M237.96 1245.3L246.36 1245.3" stroke="#000" stroke-width="1.22" fill="none"/>
<path d="M266.92 1032.6L269.72 1029.1L272.52 1032.6L269.72 1036.1Z" stroke="none" fill="#000"/><path d="M265.52 1032.6L273.92 1032.6" stroke="#000" stroke-width="1.22" fill="none"/><path d="M266.92 1245.3L269.72 1241.8L272.52 1245.3L269.72 1248.8Z" stroke="none" fill="#000"/><path d="M265.52 1245.3L273.92 1245.3" stroke="#000" stroke-width="1.22" fill="none"/>
<path d="M294.48 1032.6L297.28 1029.1L300.08 1032.6L297.28 1036.1Z" stroke="none" fill="#000"/><path d="M293.08 1032.6L301.48 1032.6" stroke="#000" stroke-width="1.22" fill="none"/><path d="M294.48 1245.3L297.28 1241.8L300.08 1245.3L297.28 1248.8Z" stroke="none" fill="#000"/><path d="M293.08 1245.3L301.48 1245.3" stroke="#000" stroke-width="1.22" fill="none"/>
<path d="M322.04 1032.6L324.84 1029.1L327.64 1032.6L324.84 1036.1Z" stroke="none" fill="#000"/><path d="M320.64 1032.6L329.04 1032.6" stroke="#000" stroke-width="1.22" fill="none"/><path d="M322.04 1245.3L324.84 1241.8L327.64 1245.3L324.84 1248.8Z" stroke="none" fill="#000"/><path d="M320.64 1245.3L329.04 1245.3" stroke="#000" stroke-width="1.22" fill="none"/>
<path d="M349.6 1032.6L352.4 1029.1L355.2 1032.6L352.4 1036.1Z" stroke="none" fill="#000"/><path d="M348.2 1032.6L356.6 1032.6" stroke="#000" stroke-width="1.22" fill="none"/><path d="M349.6 1245.3L352.4 1241.8L355.2 1245.3L352.4 1248.8Z" stroke="none" fill="#000"/><path d="M348.2 1245.3L356.6 1245.3" stroke="#000" stroke-width="1.22" fill="none"/>
<path d="M377.16 1032.6L379.96 1029.1L382.76 1032.6L379.96 1036.1Z" stroke="none" fill="#000"/><path d="M375.76 1032.6L384.16 1032.6" stroke="#000" stroke-width="1.22" fill="none"/><path d="M377.16 1245.3L379.96 1241.8L382.76 1245.3L379.96 1248.8Z" stroke="none" fill="#000"/><path d="M375.76 1245.3L384.16 1245.3" stroke="#000" stroke-width="1.22" fill="none"/>
<path d="M404.72 1032.6L407.52 1029.1L410.32 1032.6L407.52 1036.1Z" stroke="none" fill="#000"/><path d="M403.32 1032.6L411.72 1032.6" stroke="#000" stroke-width="1.22" fill="none"/><path d="M404.72 1245.3L407.52 1241.8L410.32 1245.3L407.52 1248.8Z" stroke="none" fill="#000"/><path d="M403.32 1245.3L411.72 1245.3" stroke="#000" stroke-width="1.22" fill="none"/>
<path d="M200.9 1042.3L204.4 1039.5L207.9 1042.3L204.4 1045.1Z" stroke="none" fill="#000"/><path d="M204.4 1038.1L204.4 1046.5" stroke="#000" stroke-width="1.22" fill="none"/><path d="M413.9 1042.3L417.4 1039.5L420.9 1042.3L417.4 1045.1Z" stroke="none" fill="#000"/><path d="M417.4 1038.1L417.4 1046.5" stroke="#000" stroke-width="1.22" fill="none"/>
<path d="M200.9 1069.88L204.4 1067.08L207.9 1069.88L204.4 1072.68Z" stroke="none" fill="#000"/><path d="M204.4 1065.68L204.4 1074.08" stroke="#000" stroke-width="1.22" fill="none"/><path d="M413.9 1069.88L417.4 1067.08L420.9 1069.88L417.4 1072.68Z" stroke="none" fill="#000"/><path d="M417.4 1065.68L417.4 1074.08" stroke="#000" stroke-width="1.22" fill="none"/>
<path d="M200.9 1097.46L204.4 1094.66L207.9 1097.46L204.4 1100.26Z" stroke="none" fill="#000"/><path d="M204.4 1093.26L204.4 1101.66" stroke="#000" stroke-width="1.22" fill="none"/><path d="M413.9 1097.46L417.4 1094.66L420.9 1097.46L417.4 1100.26Z" stroke="none" fill="#000"/><path d="M417.4 1093.26L417.4 1101.66" stroke="#000" stroke-width="1.22" fill="none"/>
<path d="M200.9 1125.04L204.4 1122.24L207.9 1125.04L204.4 1127.84Z" stroke="none" fill="#000"/><path d="M204.4 1120.84L204.4 1129.24" stroke="#000" stroke-width="1.22" fill="none"/><path d="M413.9 1125.04L417.4 1122.24L420.9 1125.04L417.4 1127.84Z" stroke="none" fill="#000"/><path d="M417.4 1120.84L417.4 1129.24" stroke="#000" stroke-width="1.22" fill="none"/>
<path d="M200.9 1152.62L204.4 1149.82L207.9 1152.62L204.4 1155.42Z" stroke="none" fill="#000"/><path d="M204.4 1148.42L204.4 1156.82" stroke="#000" stroke-width="1.22" fill="none"/><path d="M413.9 1152.62L417.4 1149.82L420.9 1152.62L417.4 1155.42Z" stroke="none" fill="#000"/><path d="M417.4 1148.42L417.4 1156.82" stroke="#000" stroke-width="1.22" fill="none"/>
<path d="M200.9 1180.2L204.4 1177.4L207.9 1180.2L204.4 1183Z" stroke="none" fill="#000"/><path d="M204.4 1176L204.4 1184.4" stroke="#000" stroke-width="1.22" fill="none"/><path d="M413.9 1180.2L417.4 1177.4L420.9 1180.2L417.4 1183Z" stroke="none" fill="#000"/><path d="M417.4 1176L417.4 1184.4" stroke="#000" stroke-width="1.22" fill="none"/>
<path d="M200.9 1207.78L204.4 1204.98L207.9 1207.78L204.4 1210.58Z" stroke="none" fill="#000"/><path d="M204.4 1203.58L204.4 1211.98" stroke="#000" stroke-width="1.22" fill="none"/><path d="M413.9 1207.78L417.4 1204.98L420.9 1207.78L417.4 1210.58Z" stroke="none" fill="#000"/><path d="M417.4 1203.58L417.4 1211.98" stroke="#000" stroke-width="1.22" fill="none"/>
<path d="M200.9 1235.36L204.4 1232.56L207.9 1235.36L204.4 1238.16Z" stroke="none" fill="#000"/><path d="M204.4 1231.16L204.4 1239.56" stroke="#000" stroke-width="1.22" fill="none"/><path d="M413.9 1235.36L417.4 1232.56L420.9 1235.36L417.4 1238.16Z" stroke="none" fill="#000"/><path d="M417.4 1231.16L417.4 1239.56" stroke="#000" stroke-width="1.22" fill="none"/>
<circle cx="310.9" cy="1139.2" r="63.7" stroke="#000" stroke-width="1.83" fill="none"/>
<path d="M375.19 1145.53L370.93 1149.03L367.43 1144.77L371.69 1141.27Z" stroke="none" fill="#000"/>
<path d="M372.72 1157.95L367.85 1160.55L365.25 1155.69L370.12 1153.09Z" stroke="none" fill="#000"/>
<path d="M367.87 1169.65L362.59 1171.25L360.99 1165.98L366.27 1164.37Z" stroke="none" fill="#000"/>
<path d="M360.84 1180.18L355.35 1180.72L354.81 1175.23L360.3 1174.69Z" stroke="none" fill="#000"/>
<path d="M351.88 1189.14L346.39 1188.6L346.93 1183.11L352.42 1183.65Z" stroke="none" fill="#000"/>
<path d="M341.35 1196.17L336.07 1194.57L337.68 1189.29L342.95 1190.89Z" stroke="none" fill="#000"/>
<path d="M329.65 1201.02L324.79 1198.42L327.39 1193.55L332.25 1196.15Z" stroke="none" fill="#000"/>
<path d="M317.23 1203.49L312.97 1199.99L316.47 1195.73L320.73 1199.23Z" stroke="none" fill="#000"/>
<path d="M304.57 1203.49L301.07 1199.23L305.33 1195.73L308.83 1199.99Z" stroke="none" fill="#000"/>
<path d="M292.15 1201.02L289.55 1196.15L294.41 1193.55L297.01 1198.42Z" stroke="none" fill="#000"/>
<path d="M280.45 1196.17L278.85 1190.89L284.12 1189.29L285.73 1194.57Z" stroke="none" fill="#000"/>
<path d="M269.92 1189.14L269.38 1183.65L274.87 1183.11L275.41 1188.6Z" stroke="none" fill="#000"/>
<path d="M260.96 1180.18L261.5 1174.69L266.99 1175.23L266.45 1180.72Z" stroke="none" fill="#000"/>
<path d="M253.93 1169.65L255.53 1164.37L260.81 1165.98L259.21 1171.25Z" stroke="none" fill="#000"/>
<path d="M249.08 1157.95L251.68 1153.09L256.55 1155.69L253.95 1160.55Z" stroke="none" fill="#000"/>
<path d="M246.61 1145.53L250.11 1141.27L254.37 1144.77L250.87 1149.03Z" stroke="none" fill="#000"/>
<path d="M246.61 1132.87L250.87 1129.37L254.37 1133.63L250.11 1137.13Z" stroke="none" fill="#000"/>
<path d="M249.08 1120.45L253.95 1117.85L256.55 1122.71L251.68 1125.31Z" stroke="none" fill="#000"/>
<path d="M253.93 1108.75L259.21 1107.15L260.81 1112.42L255.53 1114.03Z" stroke="none" fill="#000"/>
<path d="M260.96 1098.22L266.45 1097.68L266.99 1103.17L261.5 1103.71Z" stroke="none" fill="#000"/>
<path d="M269.92 1089.26L275.41 1089.8L274.87 1095.29L269.38 1094.75Z" stroke="none" fill="#000"/>
<path d="M280.45 1082.23L285.73 1083.83L284.12 1089.11L278.85 1087.51Z" stroke="none" fill="#000"/>
<path d="M292.15 1077.38L297.01 1079.98L294.41 1084.85L289.55 1082.25Z" stroke="none" fill="#000"/>
<path d="M304.57 1074.91L308.83 1078.41L305.33 1082.67L301.07 1079.17Z" stroke="none" fill="#000"/>
<path d="M317.23 1074.91L320.73 1079.17L316.47 1082.67L312.97 1078.41Z" stroke="none" fill="#000"/>
<path d="M329.65 1077.38L332.25 1082.25L327.39 1084.85L324.79 1079.98Z" stroke="none" fill="#000"/>
<path d="M341.35 1082.23L342.95 1087.51L337.68 1089.11L336.07 1083.83Z" stroke="none" fill="#000"/>
<path d="M351.88 1089.26L352.42 1094.75L346.93 1095.29L346.39 1089.8Z" stroke="none" fill="#000"/>
<path d="M360.84 1098.22L360.3 1103.71L354.81 1103.17L355.35 1097.68Z" stroke="none" fill="#000"/>
<path d="M367.87 1108.75L366.27 1114.03L360.99 1112.42L362.59 1107.15Z" stroke="none" fill="#000"/>
<path d="M372.72 1120.45L370.12 1125.31L365.25 1122.71L367.85 1117.85Z" stroke="none" fill="#000"/>
<path d="M375.19 1132.87L371.69 1137.13L367.43 1133.63L370.93 1129.37Z" stroke="none" fill="#000"/>
<circle cx="283.3" cy="1139.2" r="9.8" stroke="#000" stroke-width="1.83" fill="#fff"/><circle cx="283.3" cy="1139.2" r="5.1" stroke="#222" stroke-width="1.34" fill="none"/><path d="M291.57 1142.62L289.61 1143.44L288.8 1141.48L290.76 1140.66Z" stroke="none" fill="#000"/><path d="M286.72 1147.47L284.76 1146.66L285.58 1144.7L287.54 1145.51Z" stroke="none" fill="#000"/><path d="M279.88 1147.47L279.06 1145.51L281.02 1144.7L281.84 1146.66Z" stroke="none" fill="#000"/><path d="M275.03 1142.62L275.84 1140.66L277.8 1141.48L276.99 1143.44Z" stroke="none" fill="#000"/><path d="M275.03 1135.78L276.99 1134.96L277.8 1136.92L275.84 1137.74Z" stroke="none" fill="#000"/><path d="M279.88 1130.93L281.84 1131.74L281.02 1133.7L279.06 1132.89Z" stroke="none" fill="#000"/><path d="M286.72 1130.93L287.54 1132.89L285.58 1133.7L284.76 1131.74Z" stroke="none" fill="#000"/><path d="M291.57 1135.78L290.76 1137.74L288.8 1136.92L289.61 1134.96Z" stroke="none" fill="#000"/><path d="M280.07 1129.95L280.07 1148.45" stroke="#333" stroke-width="0.85" fill="none"/><path d="M274.05 1135.97L292.55 1135.97" stroke="#333" stroke-width="0.85" fill="none"/><path d="M286.53 1129.95L286.53 1148.45" stroke="#333" stroke-width="0.85" fill="none"/><path d="M274.05 1142.43L292.55 1142.43" stroke="#333" stroke-width="0.85" fill="none"/>
<circle cx="338.6" cy="1139.2" r="9.2" stroke="#000" stroke-width="1.83" fill="#fff"/><circle cx="338.6" cy="1139.2" r="4.78" stroke="#222" stroke-width="1.34" fill="none"/><path d="M346.45 1142.45L344.49 1143.26L343.67 1141.3L345.63 1140.49Z" stroke="none" fill="#000"/><path d="M341.85 1147.05L339.89 1146.23L340.7 1144.27L342.66 1145.09Z" stroke="none" fill="#000"/><path d="M335.35 1147.05L334.54 1145.09L336.5 1144.27L337.31 1146.23Z" stroke="none" fill="#000"/><path d="M330.75 1142.45L331.57 1140.49L333.53 1141.3L332.71 1143.26Z" stroke="none" fill="#000"/><path d="M330.75 1135.95L332.71 1135.14L333.53 1137.1L331.57 1137.91Z" stroke="none" fill="#000"/><path d="M335.35 1131.35L337.31 1132.17L336.5 1134.13L334.54 1133.31Z" stroke="none" fill="#000"/><path d="M341.85 1131.35L342.66 1133.31L340.7 1134.13L339.89 1132.17Z" stroke="none" fill="#000"/><path d="M346.45 1135.95L345.63 1137.91L343.67 1137.1L344.49 1135.14Z" stroke="none" fill="#000"/><path d="M335.56 1130.52L335.56 1147.88" stroke="#333" stroke-width="0.85" fill="none"/><path d="M329.92 1136.16L347.28 1136.16" stroke="#333" stroke-width="0.85" fill="none"/><path d="M341.64 1130.52L341.64 1147.88" stroke="#333" stroke-width="0.85" fill="none"/><path d="M329.92 1142.24L347.28 1142.24" stroke="#333" stroke-width="0.85" fill="none"/>
<circle cx="311" cy="1111" r="9.4" stroke="#000" stroke-width="1.83" fill="#fff"/><circle cx="311" cy="1111" r="4.89" stroke="#222" stroke-width="1.34" fill="none"/><path d="M318.99 1114.31L317.03 1115.12L316.21 1113.16L318.17 1112.35Z" stroke="none" fill="#000"/><path d="M314.31 1118.99L312.35 1118.17L313.16 1116.21L315.12 1117.03Z" stroke="none" fill="#000"/><path d="M307.69 1118.99L306.88 1117.03L308.84 1116.21L309.65 1118.17Z" stroke="none" fill="#000"/><path d="M303.01 1114.31L303.83 1112.35L305.79 1113.16L304.97 1115.12Z" stroke="none" fill="#000"/><path d="M303.01 1107.69L304.97 1106.88L305.79 1108.84L303.83 1109.65Z" stroke="none" fill="#000"/><path d="M307.69 1103.01L309.65 1103.83L308.84 1105.79L306.88 1104.97Z" stroke="none" fill="#000"/><path d="M314.31 1103.01L315.12 1104.97L313.16 1105.79L312.35 1103.83Z" stroke="none" fill="#000"/><path d="M318.99 1107.69L318.17 1109.65L316.21 1108.84L317.03 1106.88Z" stroke="none" fill="#000"/><path d="M307.9 1102.13L307.9 1119.87" stroke="#333" stroke-width="0.85" fill="none"/><path d="M302.13 1107.9L319.87 1107.9" stroke="#333" stroke-width="0.85" fill="none"/><path d="M314.1 1102.13L314.1 1119.87" stroke="#333" stroke-width="0.85" fill="none"/><path d="M302.13 1114.1L319.87 1114.1" stroke="#333" stroke-width="0.85" fill="none"/>
<rect x="320" y="1108.6" width="8" height="5" stroke="#000" stroke-width="1.22" fill="#fff"/>
<path d="M325.4 1111L331 1100.6L336.6 1111L331 1121.4Z" stroke="none" fill="#000"/><path d="M325.2 1106.4L331 1102L336.8 1106.4L331 1110.8Z" stroke="none" fill="#000"/><path d="M325.2 1115.6L331 1111.2L336.8 1115.6L331 1120Z" stroke="none" fill="#000"/>
<rect x="299.6" y="1167" width="22" height="14" stroke="#000" stroke-width="2.68" fill="#fff"/>
<rect x="302.4" y="1169.4" width="16.4" height="9.2" stroke="#000" stroke-width="1.46" fill="#fff" rx="3.2"/>
<path d="M283.4 922L283.4 1151.2" stroke="#000" stroke-width="1.22" fill="none"/>
<path d="M311 901L311 1204.6" stroke="#000" stroke-width="1.22" fill="none"/>
<path d="M338.6 921.6L338.6 1151" stroke="#000" stroke-width="1.22" fill="none"/>
<path d="M300.4 1111L383.8 1111" stroke="#000" stroke-width="1.22" fill="none"/>
<path d="M77.6 1138.6L900.6 1138.6" stroke="#111" stroke-width="1.34" fill="none"/>
<rect x="265.4" y="923.2" width="17.8" height="20.8" stroke="#000" stroke-width="1.22" fill="none" rx="0.8"/><text transform="translate(274.6 938.5) scale(0.8 1)" font-size="13.6" text-anchor="middle" fill="#6a6a6a" font-weight="normal">А</text>
<rect x="311" y="901.4" width="18.4" height="21.4" stroke="#000" stroke-width="1.22" fill="none" rx="0.8"/><text transform="translate(320.5 917) scale(0.8 1)" font-size="13.6" text-anchor="middle" fill="#6a6a6a" font-weight="normal">Ж</text>
<rect x="311" y="923.2" width="17.2" height="20.4" stroke="#000" stroke-width="1.22" fill="none" rx="0.8"/><text transform="translate(319.9 938.3) scale(0.8 1)" font-size="13.6" text-anchor="middle" fill="#6a6a6a" font-weight="normal">Д</text>
<rect x="338.6" y="922" width="17" height="21.4" stroke="#000" stroke-width="1.22" fill="none" rx="0.8"/><text transform="translate(347.4 937.6) scale(0.8 1)" font-size="13.6" text-anchor="middle" fill="#6a6a6a" font-weight="normal">Б</text>
<rect x="383.8" y="1089.9" width="17.2" height="21.2" stroke="#000" stroke-width="1.22" fill="none" rx="0.8"/><text transform="translate(392.7 1105.4) scale(0.8 1)" font-size="13.6" text-anchor="middle" fill="#6a6a6a" font-weight="normal">В</text>
<rect x="384" y="1139.2" width="17" height="20.8" stroke="#000" stroke-width="1.22" fill="none" rx="0.8"/><text transform="translate(392.8 1154.5) scale(0.8 1)" font-size="13.6" text-anchor="middle" fill="#6a6a6a" font-weight="normal">Б</text>
</g>
<g id="3d">
<defs><linearGradient id="gB" gradientUnits="userSpaceOnUse" x1="1538.17" y1="1027.58" x2="1569.03" y2="1354.02"><stop offset="0" stop-color="#222a2a"/><stop offset="0.03" stop-color="#364040"/><stop offset="0.05" stop-color="#434e4d"/><stop offset="0.07" stop-color="#4d5958"/><stop offset="0.1" stop-color="#566262"/><stop offset="0.12" stop-color="#5e6b6a"/><stop offset="0.15" stop-color="#657271"/><stop offset="0.17" stop-color="#6b7978"/><stop offset="0.2" stop-color="#717f7e"/><stop offset="0.23" stop-color="#768483"/><stop offset="0.25" stop-color="#7a8988"/><stop offset="0.28" stop-color="#7e8d8c"/><stop offset="0.3" stop-color="#829190"/><stop offset="0.33" stop-color="#849493"/><stop offset="0.35" stop-color="#879796"/><stop offset="0.38" stop-color="#899998"/><stop offset="0.4" stop-color="#8b9a99"/><stop offset="0.42" stop-color="#8c9c9b"/><stop offset="0.45" stop-color="#8d9d9c"/><stop offset="0.47" stop-color="#8d9d9c"/><stop offset="0.5" stop-color="#8d9d9c"/><stop offset="0.53" stop-color="#8d9d9c"/><stop offset="0.55" stop-color="#8c9c9b"/><stop offset="0.57" stop-color="#8b9a99"/><stop offset="0.6" stop-color="#899998"/><stop offset="0.62" stop-color="#879796"/><stop offset="0.65" stop-color="#859493"/><stop offset="0.68" stop-color="#829291"/><stop offset="0.7" stop-color="#7f8e8d"/><stop offset="0.72" stop-color="#7c8a8a"/><stop offset="0.75" stop-color="#788685"/><stop offset="0.78" stop-color="#738181"/><stop offset="0.8" stop-color="#6e7c7b"/><stop offset="0.82" stop-color="#697675"/><stop offset="0.85" stop-color="#63706f"/><stop offset="0.88" stop-color="#5c6868"/><stop offset="0.9" stop-color="#546060"/><stop offset="0.93" stop-color="#4c5756"/><stop offset="0.95" stop-color="#424c4c"/><stop offset="0.97" stop-color="#363f3f"/><stop offset="1" stop-color="#222a2a"/></linearGradient><linearGradient id="gN" x1="0" y1="0" x2="1" y2="0"><stop offset="0" stop-color="#7f9090"/><stop offset="0.2" stop-color="#9fb0b0"/><stop offset="0.42" stop-color="#e2eaea"/><stop offset="0.6" stop-color="#a3b4b4"/><stop offset="0.85" stop-color="#6b7a7a"/><stop offset="1" stop-color="#566464"/></linearGradient><linearGradient id="gP" x1="0" y1="0" x2="0" y2="1"><stop offset="0" stop-color="#6f7e7e"/><stop offset="0.3" stop-color="#a3b4b3"/><stop offset="0.6" stop-color="#8a9b9a"/><stop offset="1" stop-color="#566262"/></linearGradient></defs>
<path d="M1308.4 1372L1330 1366L1440 1392L1472 1404.8L1476.5 1407.3L1435.4 1411.4L1308 1380Z" stroke="#141919" stroke-width="0.8" fill="#2a3333"/>
<path d="M1316 1378L1340 1372.6L1343 1384.6Z" stroke="none" fill="#95a5a5"/>
<path d="M1342.4 1366L1358.6 1365L1358.8 1385.6L1342.6 1385Z" stroke="#1a2020" stroke-width="0.9" fill="#8fa0a0"/>
<path d="M1359.7 1366L1371.6 1365L1371.8 1387.4L1359.9 1386.2Z" stroke="#1a2020" stroke-width="0.9" fill="#7b8b8b"/>
<path d="M1372.7 1364L1387.8 1363L1388 1392.8L1372.9 1393Z" stroke="#1a2020" stroke-width="0.9" fill="#8fa0a0"/>
<path d="M1389.5 1363L1401.4 1362L1401.6 1394L1389.7 1393Z" stroke="#1a2020" stroke-width="0.9" fill="#7b8b8b"/>
<path d="M1474.8 1357.6L1496.4 1351.6L1606.4 1377.6L1638.4 1390.4L1642.9 1392.9L1601.8 1397L1474.4 1365.6Z" stroke="#141919" stroke-width="0.8" fill="#2a3333"/>
<path d="M1482.4 1363.6L1506.4 1358.2L1509.4 1370.2Z" stroke="none" fill="#95a5a5"/>
<path d="M1508.8 1351.6L1525 1350.6L1525.2 1371.2L1509 1370.6Z" stroke="#1a2020" stroke-width="0.9" fill="#8fa0a0"/>
<path d="M1526.1 1351.6L1538 1350.6L1538.2 1373L1526.3 1371.8Z" stroke="#1a2020" stroke-width="0.9" fill="#7b8b8b"/>
<path d="M1539.1 1349.6L1554.2 1348.6L1554.4 1378.4L1539.3 1378.6Z" stroke="#1a2020" stroke-width="0.9" fill="#8fa0a0"/>
<path d="M1555.9 1348.6L1567.8 1347.6L1568 1379.6L1556.1 1378.6Z" stroke="#1a2020" stroke-width="0.9" fill="#7b8b8b"/>
<path d="M1641.2 1343.1L1662.8 1337.1L1772.8 1363.1L1804.8 1375.9L1809.3 1378.4L1768.2 1382.5L1640.8 1351.1Z" stroke="#141919" stroke-width="0.8" fill="#2a3333"/>
<path d="M1648.8 1349.1L1672.8 1343.7L1675.8 1355.7Z" stroke="none" fill="#95a5a5"/>
<path d="M1675.2 1337.1L1691.4 1336.1L1691.6 1356.7L1675.4 1356.1Z" stroke="#1a2020" stroke-width="0.9" fill="#8fa0a0"/>
<path d="M1692.5 1337.1L1704.4 1336.1L1704.6 1358.5L1692.7 1357.3Z" stroke="#1a2020" stroke-width="0.9" fill="#7b8b8b"/>
<path d="M1705.5 1335.1L1720.6 1334.1L1720.8 1363.9L1705.7 1364.1Z" stroke="#1a2020" stroke-width="0.9" fill="#8fa0a0"/>
<path d="M1722.3 1334.1L1734.2 1333.1L1734.4 1365.1L1722.5 1364.1Z" stroke="#1a2020" stroke-width="0.9" fill="#7b8b8b"/>
<path d="M1289.04 1378.37L1283.36 1378.4L1277.61 1377.42L1271.84 1375.44L1266.08 1372.48L1260.36 1368.54L1254.73 1363.65L1249.21 1357.85L1243.84 1351.16L1238.66 1343.64L1233.69 1335.33L1228.97 1326.27L1224.53 1316.52L1220.38 1306.15L1216.57 1295.22L1213.1 1283.8L1210.01 1271.95L1207.31 1259.75L1205.02 1247.27L1203.15 1234.59L1201.72 1221.79L1200.73 1208.96L1200.19 1196.15L1200.1 1183.47L1200.47 1170.98L1201.28 1158.76L1202.54 1146.88L1204.24 1135.43L1206.37 1124.47L1208.91 1114.07L1211.85 1104.28L1215.17 1095.18L1218.86 1086.82L1222.88 1079.25L1227.21 1072.52L1231.83 1066.66L1236.7 1061.72L1241.8 1057.73L1247.1 1054.7L1252.56 1052.67L1258.16 1051.63L1818.19 1003.53L1823.64 1003.52L1829.15 1004.52L1834.69 1006.51L1840.23 1009.5L1845.72 1013.45L1851.14 1018.34L1856.45 1024.15L1861.62 1030.84L1866.62 1038.37L1871.41 1046.69L1875.98 1055.74L1880.27 1065.48L1884.29 1075.84L1887.99 1086.76L1891.35 1098.18L1894.36 1110.01L1896.99 1122.2L1899.23 1134.66L1901.07 1147.31L1902.49 1160.09L1903.49 1172.9L1904.06 1185.68L1904.19 1198.34L1903.88 1210.8L1903.15 1222.99L1901.98 1234.83L1900.4 1246.25L1898.4 1257.18L1896 1267.56L1893.21 1277.31L1890.06 1286.37L1886.57 1294.7L1882.74 1302.24L1878.61 1308.94L1874.21 1314.77L1869.55 1319.68L1864.67 1323.65L1859.6 1326.65L1854.37 1328.66L1849.01 1329.67Z" stroke="#1c2222" stroke-width="1.5" fill="url(#gB)"/>
<path d="M1488.56 1031.92L1494.06 1032.32L1499.6 1033.69L1505.16 1036.01L1510.69 1039.27L1516.16 1043.45L1521.56 1048.52L1526.83 1054.46L1531.95 1061.23L1536.9 1068.79L1541.63 1077.09L1546.13 1086.09L1550.37 1095.74L1554.32 1105.97L1557.95 1116.73L1561.26 1127.95L1564.21 1139.57L1566.79 1151.52L1568.99 1163.73L1570.79 1176.12L1572.18 1188.62L1573.16 1201.17L1573.71 1213.68L1573.84 1226.08L1573.54 1238.3L1572.82 1250.26L1571.68 1261.9L1570.12 1273.15L1568.16 1283.95L1565.8 1294.21L1563.07 1303.9L1559.98 1312.94L1556.54 1321.3L1552.77 1328.91L1548.7 1335.73L1544.36 1341.72L1539.76 1346.85L1534.94 1351.09L1529.92 1354.41L1524.73 1356.79L1519.41 1358.22" stroke="#1c2222" stroke-width="1.35" fill="none"/>
<path d="M1593.27 1022.92L1598.72 1023.33L1604.22 1024.7L1609.73 1027.03L1615.22 1030.29L1620.66 1034.47L1626.01 1039.54L1631.25 1045.48L1636.34 1052.25L1641.25 1059.81L1645.95 1068.12L1650.42 1077.12L1654.63 1086.76L1658.56 1097L1662.18 1107.75L1665.46 1118.97L1668.4 1130.59L1670.97 1142.53L1673.16 1154.74L1674.96 1167.12L1676.35 1179.62L1677.32 1192.16L1677.88 1204.67L1678.02 1217.06L1677.73 1229.28L1677.02 1241.24L1675.89 1252.88L1674.36 1264.12L1672.42 1274.91L1670.09 1285.17L1667.39 1294.85L1664.32 1303.89L1660.91 1312.23L1657.18 1319.84L1653.15 1326.65L1648.85 1332.64L1644.29 1337.77L1639.51 1342L1634.53 1345.31L1629.38 1347.69L1624.1 1349.11" stroke="#1c2222" stroke-width="1.35" fill="none"/>
<path d="M1441.53 1035.96L1443.22 1035.98L1444.91 1036.09L1446.61 1036.29L1448.31 1036.59L1450.01 1036.97L1451.72 1037.45L1453.43 1038.01L1455.14 1038.66L1456.85 1039.41L1458.56 1040.24L1460.26 1041.16L1461.97 1042.17L1463.67 1043.26L1465.36 1044.44L1467.05 1045.71L1468.73 1047.06L1470.4 1048.5L1472.06 1050.02L1473.72 1051.63L1475.36 1053.31L1476.99 1055.08L1478.61 1056.93L1480.22 1058.85L1481.81 1060.86L1483.39 1062.94L1484.95 1065.1L1486.49 1067.33L1488.02 1069.63L1489.52 1072.01L1491.01 1074.46L1492.48 1076.98L1493.92 1079.56L1495.35 1082.21L1496.75 1084.93L1498.13 1087.71L1499.48 1090.55L1500.81 1093.45L1502.11 1096.41L1503.39 1099.43L1504.64 1102.51" stroke="#1c2222" stroke-width="1.3" fill="none"/>
<path d="M1510.66 1119.27L1511.67 1122.46L1512.65 1125.69L1513.6 1128.95L1514.52 1132.25L1515.41 1135.58L1516.28 1138.94L1517.11 1142.34L1517.91 1145.76L1518.68 1149.21L1519.41 1152.68L1520.12 1156.18L1520.79 1159.69L1521.43 1163.23L1522.04 1166.78L1522.61 1170.36L1523.15 1173.94L1523.66 1177.54L1524.13 1181.15L1524.56 1184.77L1524.97 1188.39L1525.33 1192.02L1525.67 1195.66L1525.96 1199.29L1526.22 1202.93L1526.45 1206.56L1526.64 1210.19L1526.79 1213.82L1526.91 1217.44L1527 1221.05L1527.04 1224.65L1527.05 1228.23L1527.03 1231.8L1526.97 1235.36L1526.87 1238.9L1526.74 1242.42L1526.57 1245.91L1526.37 1249.39L1526.13 1252.84L1525.85 1256.26L1525.54 1259.65" stroke="#222a2a" stroke-width="1.3" fill="none" stroke-dasharray="11 22"/>
<path d="M1523.22 1277.71L1522.61 1281.26L1521.97 1284.75L1521.29 1288.19L1520.56 1291.57L1519.79 1294.9L1518.99 1298.16L1518.14 1301.37L1517.25 1304.51L1516.33 1307.59L1515.37 1310.6L1514.37 1313.55L1513.33 1316.42L1512.25 1319.22L1511.14 1321.94L1510 1324.59L1508.82 1327.16L1507.6 1329.66L1506.36 1332.07L1505.08 1334.4L1503.77 1336.65L1502.43 1338.81L1501.06 1340.88L1499.66 1342.87L1498.24 1344.77L1496.78 1346.58L1495.3 1348.3L1493.8 1349.93L1492.27 1351.46L1490.72 1352.9L1489.14 1354.24L1487.55 1355.49L1485.93 1356.64L1484.29 1357.7L1482.64 1358.65L1480.97 1359.51L1479.28 1360.27L1477.57 1360.93L1475.85 1361.49L1474.12 1361.95L1472.38 1362.31" stroke="#1c2222" stroke-width="1.3" fill="none"/>
<path d="M1540.64 1027.44L1542.31 1027.47L1543.99 1027.58L1545.68 1027.79L1547.36 1028.08L1549.06 1028.47L1550.75 1028.94L1552.45 1029.51L1554.15 1030.16L1555.85 1030.9L1557.54 1031.74L1559.24 1032.66L1560.93 1033.67L1562.61 1034.76L1564.3 1035.94L1565.97 1037.21L1567.64 1038.57L1569.3 1040L1570.95 1041.53L1572.6 1043.13L1574.23 1044.82L1575.85 1046.58L1577.46 1048.43L1579.05 1050.36L1580.64 1052.36L1582.2 1054.45L1583.75 1056.6L1585.29 1058.83L1586.8 1061.14L1588.3 1063.52L1589.78 1065.96L1591.23 1068.48L1592.67 1071.07L1594.09 1073.72L1595.48 1076.43L1596.85 1079.21L1598.2 1082.06L1599.52 1084.96L1600.81 1087.92L1602.08 1090.94L1603.33 1094.01" stroke="#1c2222" stroke-width="1.3" fill="none"/>
<path d="M1609.31 1110.77L1610.31 1113.96L1611.29 1117.19L1612.23 1120.45L1613.15 1123.75L1614.04 1127.08L1614.9 1130.44L1615.73 1133.83L1616.52 1137.25L1617.29 1140.7L1618.02 1144.17L1618.72 1147.67L1619.39 1151.19L1620.03 1154.72L1620.64 1158.28L1621.21 1161.85L1621.75 1165.43L1622.25 1169.03L1622.72 1172.64L1623.16 1176.25L1623.56 1179.88L1623.93 1183.51L1624.26 1187.14L1624.55 1190.77L1624.82 1194.41L1625.04 1198.04L1625.23 1201.67L1625.39 1205.3L1625.51 1208.91L1625.59 1212.52L1625.64 1216.12L1625.66 1219.7L1625.63 1223.27L1625.58 1226.83L1625.48 1230.36L1625.35 1233.88L1625.19 1237.38L1624.99 1240.85L1624.75 1244.3L1624.48 1247.72L1624.18 1251.11" stroke="#222a2a" stroke-width="1.3" fill="none" stroke-dasharray="11 22"/>
<path d="M1621.88 1269.16L1621.29 1272.7L1620.65 1276.19L1619.97 1279.63L1619.25 1283.01L1618.5 1286.34L1617.7 1289.6L1616.86 1292.81L1615.98 1295.95L1615.06 1299.02L1614.11 1302.03L1613.12 1304.97L1612.09 1307.84L1611.03 1310.64L1609.93 1313.37L1608.79 1316.01L1607.62 1318.58L1606.42 1321.08L1605.18 1323.49L1603.92 1325.82L1602.62 1328.06L1601.29 1330.22L1599.93 1332.29L1598.54 1334.28L1597.13 1336.18L1595.69 1337.99L1594.22 1339.7L1592.73 1341.33L1591.21 1342.86L1589.67 1344.3L1588.11 1345.64L1586.53 1346.89L1584.92 1348.04L1583.3 1349.09L1581.66 1350.04L1580 1350.9L1578.32 1351.66L1576.63 1352.32L1574.92 1352.88L1573.21 1353.33L1571.48 1353.69" stroke="#1c2222" stroke-width="1.3" fill="none"/>
<path d="M1708.61 1013.02L1710.27 1013.04L1711.93 1013.16L1713.59 1013.36L1715.26 1013.66L1716.93 1014.05L1718.6 1014.52L1720.28 1015.09L1721.96 1015.75L1723.63 1016.49L1725.31 1017.32L1726.98 1018.25L1728.66 1019.26L1730.32 1020.35L1731.98 1021.54L1733.64 1022.81L1735.29 1024.16L1736.93 1025.6L1738.56 1027.12L1740.19 1028.73L1741.8 1030.42L1743.4 1032.18L1745 1034.03L1746.57 1035.96L1748.14 1037.97L1749.68 1040.05L1751.22 1042.21L1752.73 1044.44L1754.23 1046.74L1755.72 1049.12L1757.18 1051.57L1758.62 1054.09L1760.04 1056.67L1761.44 1059.32L1762.82 1062.04L1764.18 1064.82L1765.51 1067.66L1766.82 1070.56L1768.1 1073.52L1769.36 1076.54L1770.59 1079.61" stroke="#1c2222" stroke-width="1.3" fill="none"/>
<path d="M1776.52 1096.37L1777.51 1099.55L1778.48 1102.78L1779.41 1106.04L1780.32 1109.34L1781.2 1112.67L1782.06 1116.03L1782.88 1119.42L1783.67 1122.84L1784.43 1126.29L1785.16 1129.76L1785.85 1133.25L1786.52 1136.77L1787.15 1140.3L1787.75 1143.85L1788.32 1147.42L1788.86 1151L1789.36 1154.6L1789.83 1158.21L1790.26 1161.82L1790.66 1165.44L1791.03 1169.07L1791.36 1172.7L1791.66 1176.33L1791.92 1179.97L1792.15 1183.6L1792.34 1187.23L1792.5 1190.85L1792.62 1194.46L1792.71 1198.07L1792.76 1201.66L1792.78 1205.25L1792.76 1208.81L1792.71 1212.37L1792.62 1215.9L1792.5 1219.41L1792.34 1222.91L1792.14 1226.38L1791.92 1229.82L1791.65 1233.24L1791.35 1236.63" stroke="#222a2a" stroke-width="1.3" fill="none" stroke-dasharray="11 22"/>
<path d="M1789.11 1254.67L1788.52 1258.21L1787.9 1261.69L1787.24 1265.13L1786.53 1268.51L1785.79 1271.83L1785 1275.09L1784.18 1278.29L1783.31 1281.43L1782.41 1284.5L1781.47 1287.51L1780.5 1290.45L1779.49 1293.31L1778.44 1296.11L1777.35 1298.83L1776.24 1301.47L1775.09 1304.04L1773.9 1306.53L1772.68 1308.94L1771.44 1311.26L1770.16 1313.51L1768.85 1315.66L1767.51 1317.73L1766.14 1319.72L1764.75 1321.61L1763.33 1323.42L1761.88 1325.13L1760.41 1326.75L1758.91 1328.28L1757.39 1329.72L1755.85 1331.06L1754.29 1332.3L1752.7 1333.45L1751.1 1334.5L1749.48 1335.45L1747.85 1336.31L1746.19 1337.06L1744.52 1337.72L1742.84 1338.27L1741.14 1338.73L1739.44 1339.08" stroke="#1c2222" stroke-width="1.3" fill="none"/>
<path d="M1427 1281.07L1425.98 1287.58L1424.82 1293.93L1423.51 1300.1L1422.08 1306.09L1420.51 1311.87L1418.81 1317.45L1416.99 1322.8L1415.04 1327.92L1412.98 1332.8L1410.8 1337.42L1408.52 1341.77L1406.13 1345.86L1403.64 1349.66L1401.05 1353.18L1398.38 1356.4L1395.62 1359.32L1392.78 1361.93L1389.87 1364.22L1386.9 1366.2L1383.86 1367.86L1380.77 1369.19L1377.63 1370.19L1374.45 1370.87L1371.23 1371.21L1428.91 1366.19L1432.12 1365.85L1435.28 1365.18L1438.41 1364.18L1441.49 1362.85L1444.51 1361.19L1447.47 1359.21L1450.37 1356.92L1453.19 1354.31L1455.94 1351.39L1458.6 1348.18L1461.17 1344.66L1463.65 1340.86L1466.03 1336.78L1468.3 1332.42L1470.47 1327.8L1472.52 1322.93L1474.46 1317.81L1476.27 1312.46L1477.96 1306.89L1479.52 1301.11L1480.95 1295.12L1482.24 1288.95L1483.4 1282.6L1484.41 1276.09Z" stroke="#1c2222" stroke-width="1.4" fill="url(#gB)"/>
<path d="M1402.4 1364.2L1419.2 1361.8L1419.4 1399.6L1402.6 1400.6Z" stroke="#1a2020" stroke-width="0.9" fill="#8fa0a0"/>
<path d="M1420.3 1362.6L1431.6 1352.8L1431.8 1404.4L1420.5 1402.2Z" stroke="#1a2020" stroke-width="0.9" fill="#7c8c8c"/>
<ellipse cx="1421.6" cy="1402.4" rx="2.5" ry="1.9" stroke="#222" stroke-width="0.5" fill="#bccaca"/>
<path d="M1431.4 1313.4L1464.5 1310.5L1467.9 1406.8L1433.8 1408Z" stroke="#1c2222" stroke-width="1.4" fill="#8e9f9f"/>
<path d="M1592.26 1266.74L1591.26 1273.25L1590.12 1279.6L1588.84 1285.76L1587.43 1291.75L1585.89 1297.53L1584.21 1303.1L1582.42 1308.44L1580.5 1313.56L1578.47 1318.43L1576.33 1323.04L1574.07 1327.39L1571.72 1331.47L1569.26 1335.27L1566.71 1338.78L1564.07 1342L1561.35 1344.91L1558.55 1347.52L1555.68 1349.81L1552.75 1351.78L1549.75 1353.43L1546.7 1354.76L1543.6 1355.76L1540.45 1356.43L1537.28 1356.77L1594.96 1351.75L1598.12 1351.41L1601.25 1350.75L1604.34 1349.75L1607.38 1348.42L1610.36 1346.77L1613.28 1344.8L1616.14 1342.51L1618.93 1339.91L1621.64 1336.99L1624.26 1333.78L1626.8 1330.27L1629.24 1326.47L1631.59 1322.4L1633.83 1318.05L1635.96 1313.43L1637.98 1308.57L1639.89 1303.46L1641.67 1298.11L1643.33 1292.54L1644.87 1286.76L1646.27 1280.78L1647.54 1274.62L1648.68 1268.27L1649.67 1261.77Z" stroke="#1c2222" stroke-width="1.4" fill="url(#gB)"/>
<path d="M1568.8 1349.8L1585.6 1347.4L1585.8 1385.2L1569 1386.2Z" stroke="#1a2020" stroke-width="0.9" fill="#8fa0a0"/>
<path d="M1586.7 1348.2L1598 1338.4L1598.2 1390L1586.9 1387.8Z" stroke="#1a2020" stroke-width="0.9" fill="#7c8c8c"/>
<ellipse cx="1588" cy="1388" rx="2.5" ry="1.9" stroke="#222" stroke-width="0.5" fill="#bccaca"/>
<path d="M1597.8 1299L1630.9 1296.1L1634.3 1392.4L1600.2 1393.6Z" stroke="#1c2222" stroke-width="1.4" fill="#8e9f9f"/>
<path d="M1757.53 1252.42L1756.54 1258.93L1755.42 1265.26L1754.17 1271.43L1752.78 1277.4L1751.26 1283.18L1749.62 1288.74L1747.85 1294.09L1745.96 1299.19L1743.96 1304.06L1741.85 1308.67L1739.63 1313.01L1737.31 1317.09L1734.89 1320.88L1732.37 1324.39L1729.77 1327.6L1727.09 1330.5L1724.33 1333.1L1721.49 1335.39L1718.59 1337.36L1715.64 1339.01L1712.62 1340.33L1709.56 1341.33L1706.46 1341.99L1703.32 1342.33L1761.01 1337.31L1764.13 1336.98L1767.22 1336.31L1770.26 1335.32L1773.26 1334L1776.21 1332.35L1779.09 1330.38L1781.91 1328.1L1784.66 1325.5L1787.33 1322.59L1789.92 1319.38L1792.42 1315.88L1794.83 1312.09L1797.14 1308.02L1799.35 1303.67L1801.45 1299.07L1803.44 1294.2L1805.32 1289.1L1807.08 1283.76L1808.71 1278.2L1810.22 1272.42L1811.6 1266.45L1812.85 1260.29L1813.96 1253.95L1814.94 1247.45Z" stroke="#1c2222" stroke-width="1.4" fill="url(#gB)"/>
<path d="M1735.2 1335.3L1752 1332.9L1752.2 1370.7L1735.4 1371.7Z" stroke="#1a2020" stroke-width="0.9" fill="#8fa0a0"/>
<path d="M1753.1 1333.7L1764.4 1323.9L1764.6 1375.5L1753.3 1373.3Z" stroke="#1a2020" stroke-width="0.9" fill="#7c8c8c"/>
<ellipse cx="1754.4" cy="1373.5" rx="2.5" ry="1.9" stroke="#222" stroke-width="0.5" fill="#bccaca"/>
<path d="M1764.2 1284.5L1797.3 1281.6L1800.7 1377.9L1766.6 1379.1Z" stroke="#1c2222" stroke-width="1.4" fill="#8e9f9f"/>
<rect x="1814.2" y="1334.6" width="4.6" height="4.6" stroke="#444" stroke-width="0.5" fill="#99a8a8" rx="1.5"/>
<path d="M1345.48 1208.21L1346.55 1222.47L1347.07 1236.68L1347.03 1250.72L1346.43 1264.49L1345.27 1277.89L1343.57 1290.8L1341.34 1303.14L1338.59 1314.81L1335.35 1325.72L1331.63 1335.78L1327.48 1344.93L1322.91 1353.09L1317.97 1360.19L1312.7 1366.2L1307.12 1371.05L1301.29 1374.71L1295.25 1377.16L1289.04 1378.37L1282.72 1378.34L1276.33 1377.07L1269.91 1374.56L1263.53 1370.84L1257.22 1365.94L1251.03 1359.88L1245.02 1352.72L1239.23 1344.52L1233.69 1335.33L1228.46 1325.22L1223.58 1314.27L1219.07 1302.57L1214.98 1290.2L1211.34 1277.26L1208.17 1263.85L1205.49 1250.06L1203.34 1236.01L1201.72 1221.79L1200.65 1207.53L1200.13 1193.32L1200.17 1179.28L1200.77 1165.51L1201.93 1152.11L1203.63 1139.2L1205.86 1126.86L1208.61 1115.19L1211.85 1104.28L1215.57 1094.22L1219.72 1085.07L1224.29 1076.91L1229.23 1069.81L1234.5 1063.8L1240.08 1058.95L1245.91 1055.29L1251.95 1052.84L1258.16 1051.63L1264.48 1051.66L1270.87 1052.93L1277.29 1055.44L1283.67 1059.16L1289.98 1064.06L1296.17 1070.12L1302.18 1077.28L1307.97 1085.48L1313.51 1094.67L1318.74 1104.78L1323.62 1115.73L1328.13 1127.43L1332.22 1139.8L1335.86 1152.74L1339.03 1166.15L1341.71 1179.94L1343.86 1193.99L1345.48 1208.21Z" stroke="none" fill="#7d8b8b"/><path d="M1345.48 1208.21L1346.19 1216.76L1252.29 1217.84L1252.13 1215.86Z" stroke="#9dacab" stroke-width="0.7" fill="#9dacab"/><path d="M1346.19 1216.76L1346.7 1225.32L1252.41 1219.82L1252.29 1217.84Z" stroke="#9dacab" stroke-width="0.7" fill="#9dacab"/><path d="M1346.7 1225.32L1347.01 1233.85L1252.49 1221.79L1252.41 1219.82Z" stroke="#9dacab" stroke-width="0.7" fill="#9dacab"/><path d="M1347.01 1233.85L1347.12 1242.32L1252.51 1223.76L1252.49 1221.79Z" stroke="#9cabaa" stroke-width="0.7" fill="#9cabaa"/><path d="M1347.12 1242.32L1347.03 1250.72L1252.5 1225.7L1252.51 1223.76Z" stroke="#9cabaa" stroke-width="0.7" fill="#9cabaa"/><path d="M1347.03 1250.72L1346.73 1259.02L1252.43 1227.62L1252.5 1225.7Z" stroke="#9baaa9" stroke-width="0.7" fill="#9baaa9"/><path d="M1346.73 1259.02L1346.24 1267.2L1252.32 1229.52L1252.43 1227.62Z" stroke="#9baaa9" stroke-width="0.7" fill="#9baaa9"/><path d="M1346.24 1267.2L1345.55 1275.24L1252.17 1231.38L1252.32 1229.52Z" stroke="#9aa9a8" stroke-width="0.7" fill="#9aa9a8"/><path d="M1345.55 1275.24L1344.66 1283.12L1251.97 1233.2L1252.17 1231.38Z" stroke="#99a8a7" stroke-width="0.7" fill="#99a8a7"/><path d="M1344.66 1283.12L1343.57 1290.8L1251.73 1234.98L1251.97 1233.2Z" stroke="#98a7a6" stroke-width="0.7" fill="#98a7a6"/><path d="M1343.57 1290.8L1342.29 1298.28L1251.44 1236.71L1251.73 1234.98Z" stroke="#97a6a5" stroke-width="0.7" fill="#97a6a5"/><path d="M1342.29 1298.28L1340.83 1305.53L1251.11 1238.39L1251.44 1236.71Z" stroke="#96a5a4" stroke-width="0.7" fill="#96a5a4"/><path d="M1340.83 1305.53L1339.18 1312.53L1250.74 1240.01L1251.11 1238.39Z" stroke="#94a3a2" stroke-width="0.7" fill="#94a3a2"/><path d="M1339.18 1312.53L1337.35 1319.27L1250.33 1241.57L1250.74 1240.01Z" stroke="#93a2a1" stroke-width="0.7" fill="#93a2a1"/><path d="M1337.35 1319.27L1335.35 1325.72L1249.87 1243.06L1250.33 1241.57Z" stroke="#91a09f" stroke-width="0.7" fill="#91a09f"/><path d="M1335.35 1325.72L1333.17 1331.86L1249.38 1244.48L1249.87 1243.06Z" stroke="#909f9e" stroke-width="0.7" fill="#909f9e"/><path d="M1333.17 1331.86L1330.84 1337.69L1248.85 1245.83L1249.38 1244.48Z" stroke="#8e9d9c" stroke-width="0.7" fill="#8e9d9c"/><path d="M1330.84 1337.69L1328.34 1343.18L1248.29 1247.1L1248.85 1245.83Z" stroke="#8d9c9b" stroke-width="0.7" fill="#8d9c9b"/><path d="M1328.34 1343.18L1325.7 1348.31L1247.69 1248.29L1248.29 1247.1Z" stroke="#8b9a99" stroke-width="0.7" fill="#8b9a99"/><path d="M1325.7 1348.31L1322.91 1353.09L1247.06 1249.39L1247.69 1248.29Z" stroke="#899897" stroke-width="0.7" fill="#899897"/><path d="M1322.91 1353.09L1319.99 1357.48L1246.4 1250.41L1247.06 1249.39Z" stroke="#889796" stroke-width="0.7" fill="#889796"/><path d="M1319.99 1357.48L1316.94 1361.48L1245.71 1251.33L1246.4 1250.41Z" stroke="#869594" stroke-width="0.7" fill="#869594"/><path d="M1316.94 1361.48L1313.78 1365.09L1244.99 1252.17L1245.71 1251.33Z" stroke="#849392" stroke-width="0.7" fill="#849392"/><path d="M1313.78 1365.09L1310.5 1368.28L1244.25 1252.9L1244.99 1252.17Z" stroke="#829190" stroke-width="0.7" fill="#829190"/><path d="M1310.5 1368.28L1307.12 1371.05L1243.48 1253.54L1244.25 1252.9Z" stroke="#81908f" stroke-width="0.7" fill="#81908f"/><path d="M1307.12 1371.05L1303.65 1373.39L1242.69 1254.08L1243.48 1253.54Z" stroke="#7f8e8d" stroke-width="0.7" fill="#7f8e8d"/><path d="M1303.65 1373.39L1300.1 1375.3L1241.89 1254.52L1242.69 1254.08Z" stroke="#7e8c8c" stroke-width="0.7" fill="#7e8c8c"/><path d="M1300.1 1375.3L1296.47 1376.77L1241.06 1254.86L1241.89 1254.52Z" stroke="#7c8a8a" stroke-width="0.7" fill="#7c8a8a"/><path d="M1296.47 1376.77L1292.78 1377.79L1240.23 1255.1L1241.06 1254.86Z" stroke="#7a8988" stroke-width="0.7" fill="#7a8988"/><path d="M1292.78 1377.79L1289.04 1378.37L1239.38 1255.23L1240.23 1255.1Z" stroke="#798787" stroke-width="0.7" fill="#798787"/><path d="M1289.04 1378.37L1285.26 1378.5L1238.52 1255.26L1239.38 1255.23Z" stroke="#778585" stroke-width="0.7" fill="#778585"/><path d="M1285.26 1378.5L1281.45 1378.19L1237.65 1255.19L1238.52 1255.26Z" stroke="#748282" stroke-width="0.7" fill="#748282"/><path d="M1281.45 1378.19L1277.61 1377.42L1236.78 1255.01L1237.65 1255.19Z" stroke="#727f7f" stroke-width="0.7" fill="#727f7f"/><path d="M1277.61 1377.42L1273.76 1376.21L1235.9 1254.73L1236.78 1255.01Z" stroke="#6f7d7d" stroke-width="0.7" fill="#6f7d7d"/><path d="M1273.76 1376.21L1269.91 1374.56L1235.03 1254.34L1235.9 1254.73Z" stroke="#6d7a7a" stroke-width="0.7" fill="#6d7a7a"/><path d="M1269.91 1374.56L1266.08 1372.48L1234.16 1253.86L1235.03 1254.34Z" stroke="#6a7777" stroke-width="0.7" fill="#6a7777"/><path d="M1266.08 1372.48L1262.26 1369.96L1233.29 1253.27L1234.16 1253.86Z" stroke="#687575" stroke-width="0.7" fill="#687575"/><path d="M1262.26 1369.96L1258.47 1367.01L1232.43 1252.59L1233.29 1253.27Z" stroke="#657272" stroke-width="0.7" fill="#657272"/><path d="M1258.47 1367.01L1254.73 1363.65L1231.57 1251.81L1232.43 1252.59Z" stroke="#636f6f" stroke-width="0.7" fill="#636f6f"/><path d="M1254.73 1363.65L1251.03 1359.88L1230.73 1250.93L1231.57 1251.81Z" stroke="#606d6d" stroke-width="0.7" fill="#606d6d"/><path d="M1251.03 1359.88L1247.4 1355.72L1229.91 1249.97L1230.73 1250.93Z" stroke="#5e6a6a" stroke-width="0.7" fill="#5e6a6a"/><path d="M1247.4 1355.72L1243.84 1351.16L1229.1 1248.91L1229.91 1249.97Z" stroke="#5b6868" stroke-width="0.7" fill="#5b6868"/><path d="M1243.84 1351.16L1240.37 1346.24L1228.3 1247.77L1229.1 1248.91Z" stroke="#596565" stroke-width="0.7" fill="#596565"/><path d="M1240.37 1346.24L1236.98 1340.96L1227.53 1246.55L1228.3 1247.77Z" stroke="#576363" stroke-width="0.7" fill="#576363"/><path d="M1236.98 1340.96L1233.69 1335.33L1226.78 1245.24L1227.53 1246.55Z" stroke="#556161" stroke-width="0.7" fill="#556161"/><path d="M1233.69 1335.33L1230.52 1329.37L1226.06 1243.86L1226.78 1245.24Z" stroke="#525e5e" stroke-width="0.7" fill="#525e5e"/><path d="M1230.52 1329.37L1227.46 1323.09L1225.36 1242.41L1226.06 1243.86Z" stroke="#505c5c" stroke-width="0.7" fill="#505c5c"/><path d="M1227.46 1323.09L1224.53 1316.52L1224.69 1240.89L1225.36 1242.41Z" stroke="#4e5a5a" stroke-width="0.7" fill="#4e5a5a"/><path d="M1224.53 1316.52L1221.73 1309.68L1224.05 1239.3L1224.69 1240.89Z" stroke="#4d5858" stroke-width="0.7" fill="#4d5858"/><path d="M1221.73 1309.68L1219.07 1302.57L1223.45 1237.65L1224.05 1239.3Z" stroke="#4b5656" stroke-width="0.7" fill="#4b5656"/><path d="M1219.07 1302.57L1216.57 1295.22L1222.88 1235.95L1223.45 1237.65Z" stroke="#495555" stroke-width="0.7" fill="#495555"/><path d="M1216.57 1295.22L1214.22 1287.66L1222.34 1234.2L1222.88 1235.95Z" stroke="#485353" stroke-width="0.7" fill="#485353"/><path d="M1214.22 1287.66L1212.03 1279.89L1221.84 1232.4L1222.34 1234.2Z" stroke="#475252" stroke-width="0.7" fill="#475252"/><path d="M1212.03 1279.89L1210.01 1271.95L1221.38 1230.56L1221.84 1232.4Z" stroke="#455151" stroke-width="0.7" fill="#455151"/><path d="M1210.01 1271.95L1208.17 1263.85L1220.95 1228.68L1221.38 1230.56Z" stroke="#445050" stroke-width="0.7" fill="#445050"/><path d="M1208.17 1263.85L1206.5 1255.61L1220.57 1226.78L1220.95 1228.68Z" stroke="#444f4f" stroke-width="0.7" fill="#444f4f"/><path d="M1206.5 1255.61L1205.02 1247.27L1220.23 1224.84L1220.57 1226.78Z" stroke="#434e4e" stroke-width="0.7" fill="#434e4e"/><path d="M1205.02 1247.27L1203.73 1238.83L1219.94 1222.89L1220.23 1224.84Z" stroke="#434e4e" stroke-width="0.7" fill="#434e4e"/><path d="M1203.73 1238.83L1202.63 1230.34L1219.68 1220.92L1219.94 1222.89Z" stroke="#424d4d" stroke-width="0.7" fill="#424d4d"/><path d="M1202.63 1230.34L1201.72 1221.79L1219.47 1218.94L1219.68 1220.92Z" stroke="#424d4d" stroke-width="0.7" fill="#424d4d"/><path d="M1201.72 1221.79L1201.01 1213.24L1219.31 1216.96L1219.47 1218.94Z" stroke="#424d4d" stroke-width="0.7" fill="#424d4d"/><path d="M1201.01 1213.24L1200.5 1204.68L1219.19 1214.98L1219.31 1216.96Z" stroke="#424d4d" stroke-width="0.7" fill="#424d4d"/><path d="M1200.5 1204.68L1200.19 1196.15L1219.11 1213.01L1219.19 1214.98Z" stroke="#434e4e" stroke-width="0.7" fill="#434e4e"/><path d="M1200.19 1196.15L1200.08 1187.68L1219.09 1211.04L1219.11 1213.01Z" stroke="#434e4e" stroke-width="0.7" fill="#434e4e"/><path d="M1200.08 1187.68L1200.17 1179.28L1219.1 1209.1L1219.09 1211.04Z" stroke="#444f4f" stroke-width="0.7" fill="#444f4f"/><path d="M1200.17 1179.28L1200.47 1170.98L1219.17 1207.18L1219.1 1209.1Z" stroke="#445050" stroke-width="0.7" fill="#445050"/><path d="M1200.47 1170.98L1200.96 1162.8L1219.28 1205.28L1219.17 1207.18Z" stroke="#455151" stroke-width="0.7" fill="#455151"/><path d="M1200.96 1162.8L1201.65 1154.76L1219.43 1203.42L1219.28 1205.28Z" stroke="#475252" stroke-width="0.7" fill="#475252"/><path d="M1201.65 1154.76L1202.54 1146.88L1219.63 1201.6L1219.43 1203.42Z" stroke="#485353" stroke-width="0.7" fill="#485353"/><path d="M1202.54 1146.88L1203.63 1139.2L1219.87 1199.82L1219.63 1201.6Z" stroke="#495555" stroke-width="0.7" fill="#495555"/><path d="M1203.63 1139.2L1204.91 1131.72L1220.16 1198.09L1219.87 1199.82Z" stroke="#4b5656" stroke-width="0.7" fill="#4b5656"/><path d="M1204.91 1131.72L1206.37 1124.47L1220.49 1196.41L1220.16 1198.09Z" stroke="#4d5858" stroke-width="0.7" fill="#4d5858"/><path d="M1206.37 1124.47L1208.02 1117.47L1220.86 1194.79L1220.49 1196.41Z" stroke="#4e5a5a" stroke-width="0.7" fill="#4e5a5a"/><path d="M1208.02 1117.47L1209.85 1110.73L1221.27 1193.23L1220.86 1194.79Z" stroke="#505c5c" stroke-width="0.7" fill="#505c5c"/><path d="M1209.85 1110.73L1211.85 1104.28L1221.73 1191.74L1221.27 1193.23Z" stroke="#525e5e" stroke-width="0.7" fill="#525e5e"/><path d="M1211.85 1104.28L1214.03 1098.14L1222.22 1190.32L1221.73 1191.74Z" stroke="#556161" stroke-width="0.7" fill="#556161"/><path d="M1214.03 1098.14L1216.36 1092.31L1222.75 1188.97L1222.22 1190.32Z" stroke="#576363" stroke-width="0.7" fill="#576363"/><path d="M1216.36 1092.31L1218.86 1086.82L1223.31 1187.7L1222.75 1188.97Z" stroke="#596565" stroke-width="0.7" fill="#596565"/><path d="M1218.86 1086.82L1221.5 1081.69L1223.91 1186.51L1223.31 1187.7Z" stroke="#5b6868" stroke-width="0.7" fill="#5b6868"/><path d="M1221.5 1081.69L1224.29 1076.91L1224.54 1185.41L1223.91 1186.51Z" stroke="#5e6a6a" stroke-width="0.7" fill="#5e6a6a"/><path d="M1224.29 1076.91L1227.21 1072.52L1225.2 1184.39L1224.54 1185.41Z" stroke="#606d6d" stroke-width="0.7" fill="#606d6d"/><path d="M1227.21 1072.52L1230.26 1068.52L1225.89 1183.47L1225.2 1184.39Z" stroke="#636f6f" stroke-width="0.7" fill="#636f6f"/><path d="M1230.26 1068.52L1233.42 1064.91L1226.61 1182.63L1225.89 1183.47Z" stroke="#657272" stroke-width="0.7" fill="#657272"/><path d="M1233.42 1064.91L1236.7 1061.72L1227.35 1181.9L1226.61 1182.63Z" stroke="#687575" stroke-width="0.7" fill="#687575"/><path d="M1236.7 1061.72L1240.08 1058.95L1228.12 1181.26L1227.35 1181.9Z" stroke="#6a7777" stroke-width="0.7" fill="#6a7777"/><path d="M1240.08 1058.95L1243.55 1056.61L1228.91 1180.72L1228.12 1181.26Z" stroke="#6d7a7a" stroke-width="0.7" fill="#6d7a7a"/><path d="M1243.55 1056.61L1247.1 1054.7L1229.71 1180.28L1228.91 1180.72Z" stroke="#6f7d7d" stroke-width="0.7" fill="#6f7d7d"/><path d="M1247.1 1054.7L1250.73 1053.23L1230.54 1179.94L1229.71 1180.28Z" stroke="#727f7f" stroke-width="0.7" fill="#727f7f"/><path d="M1250.73 1053.23L1254.42 1052.21L1231.37 1179.7L1230.54 1179.94Z" stroke="#748282" stroke-width="0.7" fill="#748282"/><path d="M1254.42 1052.21L1258.16 1051.63L1232.22 1179.57L1231.37 1179.7Z" stroke="#778585" stroke-width="0.7" fill="#778585"/><path d="M1258.16 1051.63L1261.94 1051.5L1233.08 1179.54L1232.22 1179.57Z" stroke="#798787" stroke-width="0.7" fill="#798787"/><path d="M1261.94 1051.5L1265.75 1051.81L1233.95 1179.61L1233.08 1179.54Z" stroke="#7a8988" stroke-width="0.7" fill="#7a8988"/><path d="M1265.75 1051.81L1269.59 1052.58L1234.82 1179.79L1233.95 1179.61Z" stroke="#7c8a8a" stroke-width="0.7" fill="#7c8a8a"/><path d="M1269.59 1052.58L1273.44 1053.79L1235.7 1180.07L1234.82 1179.79Z" stroke="#7e8c8c" stroke-width="0.7" fill="#7e8c8c"/><path d="M1273.44 1053.79L1277.29 1055.44L1236.57 1180.46L1235.7 1180.07Z" stroke="#7f8e8d" stroke-width="0.7" fill="#7f8e8d"/><path d="M1277.29 1055.44L1281.12 1057.52L1237.44 1180.94L1236.57 1180.46Z" stroke="#81908f" stroke-width="0.7" fill="#81908f"/><path d="M1281.12 1057.52L1284.94 1060.04L1238.31 1181.53L1237.44 1180.94Z" stroke="#829190" stroke-width="0.7" fill="#829190"/><path d="M1284.94 1060.04L1288.73 1062.99L1239.17 1182.21L1238.31 1181.53Z" stroke="#849392" stroke-width="0.7" fill="#849392"/><path d="M1288.73 1062.99L1292.47 1066.35L1240.03 1182.99L1239.17 1182.21Z" stroke="#869594" stroke-width="0.7" fill="#869594"/><path d="M1292.47 1066.35L1296.17 1070.12L1240.87 1183.87L1240.03 1182.99Z" stroke="#889796" stroke-width="0.7" fill="#889796"/><path d="M1296.17 1070.12L1299.8 1074.28L1241.69 1184.83L1240.87 1183.87Z" stroke="#899897" stroke-width="0.7" fill="#899897"/><path d="M1299.8 1074.28L1303.36 1078.84L1242.5 1185.89L1241.69 1184.83Z" stroke="#8b9a99" stroke-width="0.7" fill="#8b9a99"/><path d="M1303.36 1078.84L1306.83 1083.76L1243.3 1187.03L1242.5 1185.89Z" stroke="#8d9c9b" stroke-width="0.7" fill="#8d9c9b"/><path d="M1306.83 1083.76L1310.22 1089.04L1244.07 1188.25L1243.3 1187.03Z" stroke="#8e9d9c" stroke-width="0.7" fill="#8e9d9c"/><path d="M1310.22 1089.04L1313.51 1094.67L1244.82 1189.56L1244.07 1188.25Z" stroke="#909f9e" stroke-width="0.7" fill="#909f9e"/><path d="M1313.51 1094.67L1316.68 1100.63L1245.54 1190.94L1244.82 1189.56Z" stroke="#91a09f" stroke-width="0.7" fill="#91a09f"/><path d="M1316.68 1100.63L1319.74 1106.91L1246.24 1192.39L1245.54 1190.94Z" stroke="#93a2a1" stroke-width="0.7" fill="#93a2a1"/><path d="M1319.74 1106.91L1322.67 1113.48L1246.91 1193.91L1246.24 1192.39Z" stroke="#94a3a2" stroke-width="0.7" fill="#94a3a2"/><path d="M1322.67 1113.48L1325.47 1120.32L1247.55 1195.5L1246.91 1193.91Z" stroke="#96a5a4" stroke-width="0.7" fill="#96a5a4"/><path d="M1325.47 1120.32L1328.13 1127.43L1248.15 1197.15L1247.55 1195.5Z" stroke="#97a6a5" stroke-width="0.7" fill="#97a6a5"/><path d="M1328.13 1127.43L1330.63 1134.78L1248.72 1198.85L1248.15 1197.15Z" stroke="#98a7a6" stroke-width="0.7" fill="#98a7a6"/><path d="M1330.63 1134.78L1332.98 1142.34L1249.26 1200.6L1248.72 1198.85Z" stroke="#99a8a7" stroke-width="0.7" fill="#99a8a7"/><path d="M1332.98 1142.34L1335.17 1150.11L1249.76 1202.4L1249.26 1200.6Z" stroke="#9aa9a8" stroke-width="0.7" fill="#9aa9a8"/><path d="M1335.17 1150.11L1337.19 1158.05L1250.22 1204.24L1249.76 1202.4Z" stroke="#9baaa9" stroke-width="0.7" fill="#9baaa9"/><path d="M1337.19 1158.05L1339.03 1166.15L1250.65 1206.12L1250.22 1204.24Z" stroke="#9baaa9" stroke-width="0.7" fill="#9baaa9"/><path d="M1339.03 1166.15L1340.7 1174.39L1251.03 1208.02L1250.65 1206.12Z" stroke="#9cabaa" stroke-width="0.7" fill="#9cabaa"/><path d="M1340.7 1174.39L1342.18 1182.73L1251.37 1209.96L1251.03 1208.02Z" stroke="#9cabaa" stroke-width="0.7" fill="#9cabaa"/><path d="M1342.18 1182.73L1343.47 1191.17L1251.66 1211.91L1251.37 1209.96Z" stroke="#9dacab" stroke-width="0.7" fill="#9dacab"/><path d="M1343.47 1191.17L1344.57 1199.66L1251.92 1213.88L1251.66 1211.91Z" stroke="#9dacab" stroke-width="0.7" fill="#9dacab"/><path d="M1344.57 1199.66L1345.48 1208.21L1252.13 1215.86L1251.92 1213.88Z" stroke="#9dacab" stroke-width="0.7" fill="#9dacab"/><path d="M1252.13 1215.86L1252.45 1220.81L1252.5 1225.7L1252.25 1230.45L1251.73 1234.98L1250.93 1239.21L1249.87 1243.06L1248.58 1246.47L1247.06 1249.39L1245.35 1251.76L1243.48 1253.54L1241.48 1254.71L1239.38 1255.23L1237.21 1255.11L1235.03 1254.34L1232.86 1252.94L1230.73 1250.93L1228.7 1248.35L1226.78 1245.24L1225.02 1241.65L1223.45 1237.65L1222.08 1233.3L1220.95 1228.68L1220.08 1223.87L1219.47 1218.94L1219.15 1213.99L1219.1 1209.1L1219.35 1204.35L1219.87 1199.82L1220.67 1195.59L1221.73 1191.74L1223.02 1188.33L1224.54 1185.41L1226.25 1183.04L1228.12 1181.26L1230.12 1180.09L1232.22 1179.57L1234.39 1179.69L1236.57 1180.46L1238.74 1181.86L1240.87 1183.87L1242.9 1186.45L1244.82 1189.56L1246.58 1193.15L1248.15 1197.15L1249.52 1201.5L1250.65 1206.12L1251.52 1210.93L1252.13 1215.86Z" stroke="#1c2222" stroke-width="1.5" fill="#768484"/><path d="M1345.48 1208.21L1346.38 1219.62L1346.93 1231.01L1347.12 1242.32L1346.95 1253.5L1346.43 1264.49L1345.55 1275.24L1344.32 1285.7L1342.74 1295.81L1340.83 1305.53L1338.59 1314.81L1336.03 1323.6L1333.17 1331.86L1330.02 1339.56L1326.6 1346.64L1322.91 1353.09L1318.99 1358.86L1314.85 1363.93L1310.5 1368.28L1305.97 1371.88L1301.29 1374.71L1296.47 1376.77L1291.54 1378.04L1286.53 1378.51L1281.45 1378.19L1276.33 1377.07L1271.2 1375.16L1266.08 1372.48L1260.99 1369.02L1255.97 1364.82L1251.03 1359.88L1246.21 1354.24L1241.52 1347.92L1236.98 1340.96L1232.62 1333.38L1228.46 1325.22L1224.53 1316.52L1220.83 1307.34L1217.38 1297.7L1214.22 1287.66L1211.34 1277.26L1208.76 1266.56L1206.5 1255.61L1204.57 1244.47L1202.97 1233.17L1201.72 1221.79L1200.82 1210.38L1200.27 1198.99L1200.08 1187.68L1200.25 1176.5L1200.77 1165.51L1201.65 1154.76L1202.88 1144.3L1204.46 1134.19L1206.37 1124.47L1208.61 1115.19L1211.17 1106.4L1214.03 1098.14L1217.18 1090.44L1220.6 1083.36L1224.29 1076.91L1228.21 1071.14L1232.35 1066.07L1236.7 1061.72L1241.23 1058.12L1245.91 1055.29L1250.73 1053.23L1255.66 1051.96L1260.67 1051.49L1265.75 1051.81L1270.87 1052.93L1276 1054.84L1281.12 1057.52L1286.21 1060.98L1291.23 1065.18L1296.17 1070.12L1300.99 1075.76L1305.68 1082.08L1310.22 1089.04L1314.58 1096.62L1318.74 1104.78L1322.67 1113.48L1326.37 1122.66L1329.82 1132.3L1332.98 1142.34L1335.86 1152.74L1338.44 1163.44L1340.7 1174.39L1342.63 1185.53L1344.23 1196.83L1345.48 1208.21Z" stroke="#1c2222" stroke-width="1.6" fill="none"/><path d="M1284.87 1376.55L1280.68 1375.84L1276.47 1374.58L1272.25 1372.78L1268.05 1370.45L1263.87 1367.58L1259.74 1364.2L1255.66 1360.31L1251.64 1355.93L1247.71 1351.06L1243.88 1345.74L1240.15 1339.96L1236.55 1333.77L1233.07 1327.17L1229.75 1320.18L1226.58 1312.84L1223.57 1305.17L1220.75 1297.19L1218.11 1288.93L1215.67 1280.41L1213.43 1271.68L1211.4 1262.75L1209.59 1253.66L1208.01 1244.43L1206.66 1235.11L1205.54 1225.71L1204.66 1216.28L1204.02 1206.85L1203.63 1197.44L1203.48 1188.09L1203.58 1178.83L1203.92 1169.69L1204.51 1160.71L1205.34 1151.91L1206.41 1143.33L1207.71 1134.98L1209.24 1126.91L1211.01 1119.14L1212.99 1111.69L1215.18 1104.59L1217.58 1097.87L1220.18 1091.54L1222.97 1085.63L1225.94 1080.16L1229.07 1075.15L1232.37 1070.61L1235.81 1066.57L1239.39 1063.02L1243.09 1060L1246.91 1057.49L1250.82 1055.53" stroke="#2a3232" stroke-width="0.8" fill="none"/><path d="M1269.27 1053.03L1273.48 1054.54L1277.68 1056.57L1281.87 1059.12L1286.02 1062.18L1290.13 1065.74L1294.17 1069.8L1298.15 1074.33L1302.04 1079.32L1305.83 1084.75L1309.51 1090.61L1313.06 1096.88L1316.49 1103.54L1319.76 1110.56L1322.88 1117.93L1325.83 1125.61L1328.61 1133.59L1331.2 1141.83L1333.6 1150.31L1335.79 1159.01L1337.78 1167.89L1339.55 1176.92L1341.1 1186.08L1342.42 1195.34L1343.52 1204.66L1344.37 1214.01L1345 1223.37L1345.38 1232.7L1345.52 1241.97L1345.42 1251.15L1345.08 1260.22L1344.5 1269.14L1343.68 1277.88L1342.63 1286.42L1341.35 1294.72L1339.84 1302.76L1338.1 1310.51L1336.16 1317.95L1334 1325.06L1331.63 1331.8L1329.08 1338.16L1326.33 1344.12L1323.41 1349.66L1320.32 1354.75L1317.07 1359.39L1313.67 1363.56L1310.14 1367.23L1306.48 1370.41L1302.7 1373.08L1298.83 1375.24L1294.87 1376.87" stroke="#2a3232" stroke-width="0.7" fill="none"/>
<path d="M1216.4 1094.6L1259.6 1090.6Q1264.6 1096.4 1258.8 1103.4L1216.6 1106Z" stroke="#1c2222" stroke-width="0.9" fill="url(#gP)"/>
<ellipse cx="1216.2" cy="1100.3" rx="2.7" ry="5.8" stroke="#1c2222" stroke-width="1" fill="#8b9b9b" transform="rotate(4 1216.2 1100.3)"/>
<path d="M1430.2 1112.5L1463 1101.2L1470.5 1111.5L1437.7 1124.5Z" stroke="#222a2a" stroke-width="1.5" fill="#80908f"/>
<path d="M1438.6 1115.6L1437.7 1094Q1438.4 1081.6 1449.6 1081.4Q1461.8 1082 1462.6 1094.6L1462.8 1107.4Z" stroke="#222a2a" stroke-width="1.5" fill="#7a8a8a"/>
<path d="M1441.8 1114.4L1441.4 1095Q1442 1085.4 1450.6 1083.4" stroke="#394444" stroke-width="1" fill="none"/>
<ellipse cx="1450.7" cy="1097.7" rx="5.2" ry="7.1" stroke="#1c2323" stroke-width="1.9" fill="#839392"/>
<path d="M1725.2 1078.2L1764.3 1083L1764.7 1096.4L1727.1 1091.2Z" stroke="#222a2a" stroke-width="1.6" fill="#7f8f8f"/>
<path d="M1730.7 1083.7L1730.3 1067.4Q1731 1057.6 1745 1057.3Q1758.8 1057.8 1759.5 1068L1759.5 1087.7Z" stroke="#222a2a" stroke-width="1.5" fill="#a5b6b6"/>
<circle cx="1745.7" cy="1072.3" r="6.4" stroke="#222a2a" stroke-width="1.5" fill="#7d8d8d"/>
<path d="M1255.6 1025L1338.6 1046.8L1338.6 1087.4L1330 1077.6L1320 1068.8L1310 1062L1300 1056.6L1290 1052.6L1280 1050L1270 1048.8L1262 1049.2L1255.8 1050.4Z" stroke="#1c2222" stroke-width="1.1" fill="#748484"/>
<path d="M1338.6 1046.8L1510.8 1031.8L1510.9 1074.7L1340.4 1087.5Z" stroke="#1c2222" stroke-width="1.4" fill="#8c9d9d"/>
<path d="M1342.4 1048L1343.6 1087" stroke="#aab8b8" stroke-width="0.7" fill="none"/>
<path d="M1251.7 851L1422.4 836.7L1505.4 857.2L1507.6 1030.6L1338.7 1046.2L1255.2 1023.6Z" stroke="none" fill="rgba(110,124,126,0.285)"/>
<path d="M1251.7 851L1422.4 836.7L1505.4 857.2L1334.7 870.9Z" stroke="none" fill="rgba(90,106,108,0.11)"/>
<path d="M1370 845L1422.4 836.7L1505.4 857.2L1432 863Z" stroke="none" fill="rgba(90,106,108,0.06)"/>
<path d="M1334.7 870.9L1421.4 864L1423.6 1012L1338.7 1046.2Z" stroke="none" fill="rgba(255,255,255,0.08)"/>
<path d="M1255.2 1025.6L1423.8 1012.9L1510.8 1031.6L1338.8 1046.8Z" stroke="none" fill="#9cadad"/>
<path d="M1257 1026.4L1331 1019L1337 1043.6L1339 1046Z" stroke="none" fill="#a3b4b4"/>
<path d="M1434 1017L1426 1014.4L1507 1031.6L1440 1037.4Z" stroke="none" fill="#98a9a9"/>
<path d="M1438 1016.4L1509 1031.4" stroke="#2c3535" stroke-width="1.6" fill="none"/>
<path d="M1256 1019L1326 1013.4" stroke="#d3dbdb" stroke-width="1" fill="none"/>
<path d="M1438 1012.6L1506 1026.6" stroke="#d3dbdb" stroke-width="1" fill="none"/>
<path d="M1332.6 1014.6L1333.2 1036Q1382 1047 1432.4 1036.4L1432.6 1014.6Z" stroke="#2a3333" stroke-width="0.8" fill="url(#gN)"/>
<ellipse cx="1342.4" cy="1020.2" rx="2.1" ry="1.5" stroke="none" fill="#3b4747"/>
<ellipse cx="1353.6" cy="1020.45" rx="2.1" ry="1.5" stroke="none" fill="#3b4747"/>
<ellipse cx="1364.8" cy="1020.7" rx="2.1" ry="1.5" stroke="none" fill="#3b4747"/>
<ellipse cx="1376" cy="1020.95" rx="2.1" ry="1.5" stroke="none" fill="#3b4747"/>
<ellipse cx="1387.2" cy="1021.2" rx="2.1" ry="1.5" stroke="none" fill="#3b4747"/>
<ellipse cx="1398.4" cy="1020.95" rx="2.1" ry="1.5" stroke="none" fill="#3b4747"/>
<ellipse cx="1409.6" cy="1020.7" rx="2.1" ry="1.5" stroke="none" fill="#3b4747"/>
<ellipse cx="1420.8" cy="1020.45" rx="2.1" ry="1.5" stroke="none" fill="#3b4747"/>
<ellipse cx="1432" cy="1020.2" rx="2.1" ry="1.5" stroke="none" fill="#3b4747"/>
<ellipse cx="1404.6" cy="1034.8" rx="2.2" ry="1.3" stroke="none" fill="#1c2323"/>
<ellipse cx="1382.4" cy="1012.2" rx="51.4" ry="7.2" stroke="#2a3333" stroke-width="0.7" fill="#6f7f7f"/>
<ellipse cx="1382.2" cy="1008.6" rx="58.2" ry="8.4" stroke="#1c2323" stroke-width="0.8" fill="#2f3a3a"/>
<ellipse cx="1382.2" cy="1006.2" rx="57" ry="7.4" stroke="none" fill="#3a4646"/>
<ellipse cx="1328.6" cy="1005.4" rx="3" ry="3.2" stroke="none" fill="#3a4646"/>
<ellipse cx="1337.55" cy="1003.23" rx="3" ry="3.2" stroke="none" fill="#3a4646"/>
<ellipse cx="1346.5" cy="1001.95" rx="3" ry="3.2" stroke="none" fill="#3a4646"/>
<ellipse cx="1355.45" cy="1001.01" rx="3" ry="3.2" stroke="none" fill="#3a4646"/>
<ellipse cx="1364.4" cy="1000.34" rx="3" ry="3.2" stroke="none" fill="#3a4646"/>
<ellipse cx="1373.35" cy="999.93" rx="3" ry="3.2" stroke="none" fill="#3a4646"/>
<ellipse cx="1382.3" cy="999.8" rx="3" ry="3.2" stroke="none" fill="#3a4646"/>
<ellipse cx="1391.25" cy="999.93" rx="3" ry="3.2" stroke="none" fill="#3a4646"/>
<ellipse cx="1400.2" cy="1000.34" rx="3" ry="3.2" stroke="none" fill="#3a4646"/>
<ellipse cx="1409.15" cy="1001.01" rx="3" ry="3.2" stroke="none" fill="#3a4646"/>
<ellipse cx="1418.1" cy="1001.95" rx="3" ry="3.2" stroke="none" fill="#3a4646"/>
<ellipse cx="1427.05" cy="1003.23" rx="3" ry="3.2" stroke="none" fill="#3a4646"/>
<ellipse cx="1436" cy="1005.4" rx="3" ry="3.2" stroke="none" fill="#3a4646"/>
<ellipse cx="1341.6" cy="1015.08" rx="2.6" ry="2" stroke="none" fill="#2f3a3a"/>
<ellipse cx="1353.2" cy="1015.5" rx="2.6" ry="2" stroke="none" fill="#2f3a3a"/>
<ellipse cx="1364.8" cy="1015.81" rx="2.6" ry="2" stroke="none" fill="#2f3a3a"/>
<ellipse cx="1376.4" cy="1015.98" rx="2.6" ry="2" stroke="none" fill="#2f3a3a"/>
<ellipse cx="1388" cy="1015.98" rx="2.6" ry="2" stroke="none" fill="#2f3a3a"/>
<ellipse cx="1399.6" cy="1015.81" rx="2.6" ry="2" stroke="none" fill="#2f3a3a"/>
<ellipse cx="1411.2" cy="1015.5" rx="2.6" ry="2" stroke="none" fill="#2f3a3a"/>
<ellipse cx="1422.8" cy="1015.08" rx="2.6" ry="2" stroke="none" fill="#2f3a3a"/>
<rect x="1356.8" y="1000" width="5.6" height="12" stroke="#5a6868" stroke-width="0.5" fill="#a9b9b9"/><rect x="1356.8" y="1000" width="1.96" height="12" stroke="none" fill="#95a6a6"/><ellipse cx="1359.6" cy="998.4" rx="8.2" ry="3.6" stroke="none" fill="#364242"/><ellipse cx="1353" cy="996.4" rx="1.9" ry="1.9" stroke="none" fill="#2e3838"/><ellipse cx="1357.2" cy="996.4" rx="1.9" ry="1.9" stroke="none" fill="#2e3838"/><ellipse cx="1362" cy="996.4" rx="1.9" ry="1.9" stroke="none" fill="#2e3838"/><ellipse cx="1366.2" cy="996.4" rx="1.9" ry="1.9" stroke="none" fill="#2e3838"/>
<ellipse cx="1357.6" cy="995.6" rx="8" ry="3.4" stroke="none" fill="#364242"/>
<ellipse cx="1351.6" cy="993.2" rx="1.9" ry="1.9" stroke="none" fill="#2e3838"/>
<ellipse cx="1355.6" cy="993.2" rx="1.9" ry="1.9" stroke="none" fill="#2e3838"/>
<ellipse cx="1360.2" cy="993.2" rx="1.9" ry="1.9" stroke="none" fill="#2e3838"/>
<ellipse cx="1364" cy="993.2" rx="1.9" ry="1.9" stroke="none" fill="#2e3838"/>
<rect x="1367.9" y="983.6" width="5.4" height="25" stroke="#5a6868" stroke-width="0.5" fill="#b7c6c6"/><rect x="1367.9" y="983.6" width="1.89" height="25" stroke="none" fill="#95a6a6"/><ellipse cx="1370.6" cy="982" rx="8.2" ry="3.6" stroke="none" fill="#364242"/><ellipse cx="1364" cy="980" rx="1.9" ry="1.9" stroke="none" fill="#2e3838"/><ellipse cx="1368.2" cy="980" rx="1.9" ry="1.9" stroke="none" fill="#2e3838"/><ellipse cx="1373" cy="980" rx="1.9" ry="1.9" stroke="none" fill="#2e3838"/><ellipse cx="1377.2" cy="980" rx="1.9" ry="1.9" stroke="none" fill="#2e3838"/>
<rect x="1401.6" y="983.6" width="5.6" height="23.4" stroke="#5a6868" stroke-width="0.5" fill="#b7c6c6"/><rect x="1401.6" y="983.6" width="1.96" height="23.4" stroke="none" fill="#95a6a6"/><ellipse cx="1404.4" cy="982" rx="8.2" ry="3.6" stroke="none" fill="#364242"/><ellipse cx="1397.8" cy="980" rx="1.9" ry="1.9" stroke="none" fill="#2e3838"/><ellipse cx="1402" cy="980" rx="1.9" ry="1.9" stroke="none" fill="#2e3838"/><ellipse cx="1406.8" cy="980" rx="1.9" ry="1.9" stroke="none" fill="#2e3838"/><ellipse cx="1411" cy="980" rx="1.9" ry="1.9" stroke="none" fill="#2e3838"/>
<rect x="1373" y="989.6" width="12" height="5.6" stroke="#5a6868" stroke-width="0.4" fill="#a6b6b6"/>
<ellipse cx="1387.4" cy="990.6" rx="5.4" ry="8.6" stroke="none" fill="#354040"/>
<ellipse cx="1383.6" cy="984" rx="1.9" ry="1.9" stroke="none" fill="#2e3838"/>
<ellipse cx="1391.4" cy="985.2" rx="1.9" ry="1.9" stroke="none" fill="#2e3838"/>
<ellipse cx="1383.2" cy="997" rx="1.9" ry="1.9" stroke="none" fill="#2e3838"/>
<ellipse cx="1391.2" cy="995.6" rx="1.9" ry="1.9" stroke="none" fill="#2e3838"/>
<ellipse cx="1393" cy="990.4" rx="1.9" ry="1.9" stroke="none" fill="#2e3838"/>
<rect x="1383" y="1007.6" width="6.4" height="4.2" stroke="none" fill="#9dadad"/>
<rect x="1402" y="1006.8" width="5.6" height="3.2" stroke="none" fill="#9dadad"/>
<path d="M1251.7 851L1422.4 836.7" stroke="#707a7a" stroke-width="1.9" fill="none"/>
<path d="M1252.1 853.6L1422.8 839.3" stroke="#8f9999" stroke-width="1.2" fill="none"/>
<path d="M1422.4 836.7L1505.4 857.2" stroke="#707a7a" stroke-width="1.9" fill="none"/>
<path d="M1421.6 839.3L1504.6 859.8" stroke="#8f9999" stroke-width="1.2" fill="none"/>
<path d="M1251.7 851L1334.7 870.9" stroke="#707a7a" stroke-width="1.9" fill="none"/>
<path d="M1252.9 853.6L1335.9 873.5" stroke="#8f9999" stroke-width="1.2" fill="none"/>
<path d="M1334.7 870.9L1505.4 857.2" stroke="#707a7a" stroke-width="1.9" fill="none"/>
<path d="M1335 873.7L1505.7 860" stroke="#8f9999" stroke-width="1.2" fill="none"/>
<path d="M1251.7 851L1255.2 1023.6L1258.6 1022.6L1255.1 853Z" stroke="none" fill="rgba(110,124,126,0.16)"/>
<path d="M1251.7 851L1255.2 1023.6" stroke="#707a7a" stroke-width="1.9" fill="none"/>
<path d="M1255.1 853L1258.6 1022.6" stroke="#8a9494" stroke-width="1.3" fill="none"/>
<path d="M1334.7 870.9L1338.7 1046.2L1342.3 1045.2L1338.3 872.9Z" stroke="none" fill="rgba(110,124,126,0.16)"/>
<path d="M1334.7 870.9L1338.7 1046.2" stroke="#707a7a" stroke-width="1.9" fill="none"/>
<path d="M1338.3 872.9L1342.3 1045.2" stroke="#8a9494" stroke-width="1.3" fill="none"/>
<path d="M1422.4 836.7L1423.8 1012.6L1420.4 1011.6L1419 838.7Z" stroke="none" fill="rgba(110,124,126,0.16)"/>
<path d="M1422.4 836.7L1423.8 1012.6" stroke="#707a7a" stroke-width="1.9" fill="none"/>
<path d="M1419 838.7L1420.4 1011.6" stroke="#8a9494" stroke-width="1.3" fill="none"/>
<path d="M1505.4 857.2L1507.6 1030.6L1504.4 1029.6L1502.2 859.2Z" stroke="none" fill="rgba(110,124,126,0.16)"/>
<path d="M1505.4 857.2L1507.6 1030.6" stroke="#707a7a" stroke-width="1.9" fill="none"/>
<path d="M1502.2 859.2L1504.4 1029.6" stroke="#8a9494" stroke-width="1.3" fill="none"/>
<path d="M1370 845.6L1432 863.2" stroke="#a4acac" stroke-width="0.8" fill="none"/>
<rect x="1257.8" y="858" width="4.8" height="14" stroke="#9aa3a3" stroke-width="0.7" fill="#c3caca" rx="2"/>
<rect x="1341.8" y="876.5" width="4.8" height="17" stroke="#9aa3a3" stroke-width="0.7" fill="#c3caca" rx="2"/>
<rect x="1495.6" y="864" width="4.8" height="16" stroke="#9aa3a3" stroke-width="0.7" fill="#c3caca" rx="2"/>
<rect x="1410.4" y="843.9" width="4.8" height="12.6" stroke="#9aa3a3" stroke-width="0.7" fill="#c3caca" rx="2"/>
<path d="M1287 877.6L1299 879.2" stroke="#a9b1b1" stroke-width="0.8" fill="none"/><path d="M1298.6 880.2L1306.6 880.4" stroke="#9aa3a3" stroke-width="1.4" fill="none"/>
<path d="M1287 915L1299 916.6" stroke="#a9b1b1" stroke-width="0.8" fill="none"/><path d="M1298.6 917.6L1306.6 917.8" stroke="#9aa3a3" stroke-width="1.4" fill="none"/>
<path d="M1287 952.8L1299 954.4" stroke="#a9b1b1" stroke-width="0.8" fill="none"/><path d="M1298.6 955.4L1306.6 955.6" stroke="#9aa3a3" stroke-width="1.4" fill="none"/>
<path d="M1287 989.6L1299 991.2" stroke="#a9b1b1" stroke-width="0.8" fill="none"/><path d="M1298.6 992.2L1306.6 992.4" stroke="#9aa3a3" stroke-width="1.4" fill="none"/>
<path d="M1453.6 1013V981.6Q1456.4 975.6 1459.2 981.6V1014" stroke="#aeb6b6" stroke-width="0.9" fill="#f1f4f4"/>
<ellipse cx="1404.6" cy="857.6" rx="2.4" ry="1.6" stroke="none" fill="#7c8686"/>
<path d="M1248.6 1023.4L1338.6 1046.4" stroke="#131818" stroke-width="2.6" fill="none"/><path d="M1338.6 1046.4L1514.6 1031.2" stroke="#161b1b" stroke-width="2.1" fill="none"/>
<path d="M1252 1025.4L1338.6 1048.6L1512 1033.6" stroke="#8e9a9a" stroke-width="0.9" fill="none"/>
<path d="M1255.6 1025L1255.6 1050.6" stroke="#1c2222" stroke-width="1.4" fill="none"/>
<path d="M1338.7 1046.6L1338.7 1087.2" stroke="#111" stroke-width="1.5" fill="none"/>
</g>
</svg>
</body>
</html>
